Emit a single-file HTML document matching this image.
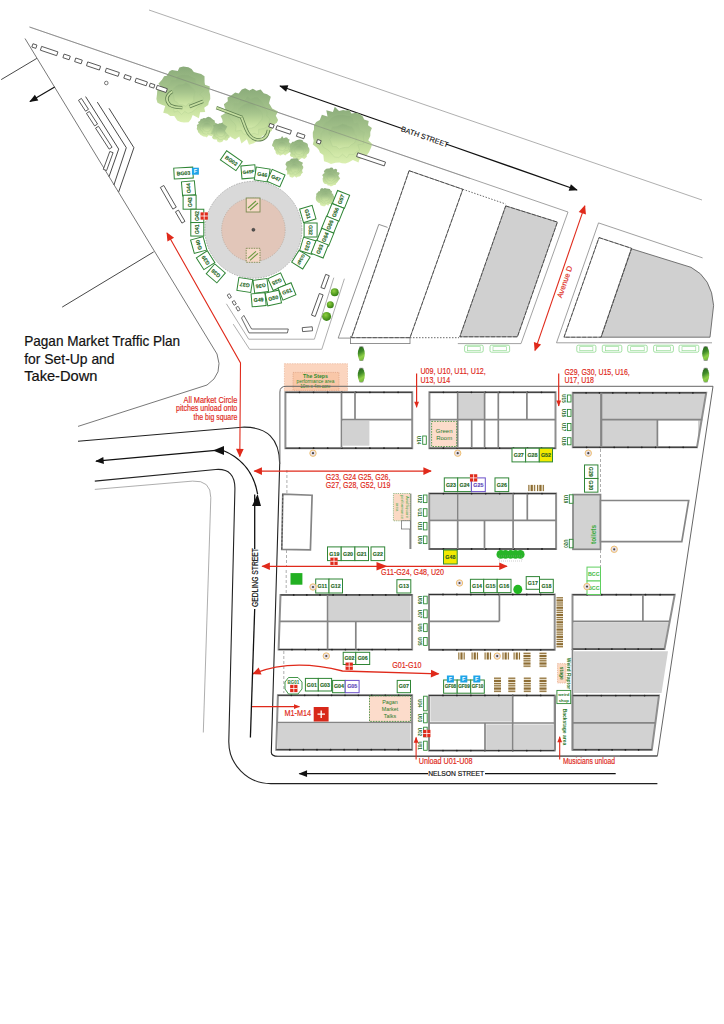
<!DOCTYPE html>
<html><head><meta charset="utf-8"><style>
html,body{margin:0;padding:0;background:#fff;}
svg{display:block;}
</style></head><body>
<svg width="724" height="1024" viewBox="0 0 724 1024" font-family="Liberation Sans">
<rect width="724" height="1024" fill="#fff"/>
<defs>
<marker id="ab" viewBox="0 0 10 10" refX="9" refY="5" markerWidth="11" markerHeight="8.5" orient="auto-start-reverse" markerUnits="userSpaceOnUse"><path d="M0,1 L10,5 L0,9 z" fill="#111"/></marker>
<marker id="ar" viewBox="0 0 10 10" refX="9" refY="5" markerWidth="11" markerHeight="8.5" orient="auto-start-reverse" markerUnits="userSpaceOnUse"><path d="M0,0.5 L10,5 L0,9.5 z" fill="#e02a1b"/></marker>
<marker id="ars" viewBox="0 0 10 10" refX="9" refY="5" markerWidth="7.5" markerHeight="6" orient="auto-start-reverse" markerUnits="userSpaceOnUse"><path d="M0,1 L10,5 L0,9 z" fill="#e02a1b"/></marker>
<radialGradient id="tree" cx="0.5" cy="0.75" r="0.75">
<stop offset="0" stop-color="#dff0b0"/><stop offset="0.55" stop-color="#b5d68a"/><stop offset="1" stop-color="#8fb878"/></radialGradient>
<linearGradient id="treeL" x1="0" y1="0" x2="0" y2="1">
<stop offset="0" stop-color="#8aab7a"/><stop offset="0.45" stop-color="#a9c78e"/><stop offset="0.75" stop-color="#c6e09e"/><stop offset="1" stop-color="#dcf0b2"/></linearGradient>
<radialGradient id="bush" cx="0.4" cy="0.35" r="0.7"><stop offset="0" stop-color="#8fd040"/><stop offset="1" stop-color="#2f7a10"/></radialGradient>
<linearGradient id="cyp" x1="0" y1="0" x2="0.3" y2="1"><stop offset="0" stop-color="#235f1a"/><stop offset="0.45" stop-color="#3f8a28"/><stop offset="0.8" stop-color="#8fd048"/><stop offset="1" stop-color="#7cc040"/></linearGradient>
</defs>
<line x1="149" y1="10" x2="702" y2="200" stroke="#9a9a9a" stroke-width="0.8" />
<path d="M29.5,27 L568,212 L521,343.6 L457.8,343.6" stroke="#8a8a8a" stroke-width="0.8" fill="none" />
<line x1="280" y1="86" x2="402" y2="128.5" stroke="#111" stroke-width="1.3" marker-start="url(#ab)"/>
<line x1="446" y1="144" x2="577" y2="190" stroke="#111" stroke-width="1.3" marker-end="url(#ab)"/>
<text x="424" y="139.3" font-size="7.3" fill="#111" text-anchor="middle" font-weight="normal" font-family="Liberation Sans" transform="rotate(19.3 424 139.3)" stroke="#111" stroke-width="0.12">BATH STREET</text>
<path d="M25,38.5 L217,354 Q224,374 207,385 L78,426.4" stroke="#555" stroke-width="0.8" fill="none" />
<line x1="1.2" y1="79.6" x2="36.8" y2="58.4" stroke="#333" stroke-width="0.9" />
<line x1="54.7" y1="87" x2="30" y2="101.5" stroke="#111" stroke-width="1.2" marker-end="url(#ab)"/>
<line x1="62.2" y1="307.1" x2="153.7" y2="251.9" stroke="#333" stroke-width="0.9" />
<path d="M85.6,96.6 L118.7,149.1 L109,176.7" stroke="#333" stroke-width="0.9" fill="none" />
<path d="M97.3,102.1 L126.3,147.7 L113.9,185" stroke="#333" stroke-width="0.9" fill="none" />
<path d="M109,108.3 L133.9,147.7 L118.7,191.9" stroke="#333" stroke-width="0.9" fill="none" />
<line x1="584.8" y1="205.9" x2="535" y2="350.4" stroke="#e02a1b" stroke-width="1.1" marker-start="url(#ar)" marker-end="url(#ar)"/>
<text x="567.6" y="282.5" font-size="7.6" fill="#e02a1b" text-anchor="middle" font-weight="normal" font-family="Liberation Sans" transform="rotate(-71 567.6 283)" stroke="#e02a1b" stroke-width="0.15">Avenue D</text>
<polygon points="215.8,126.8 217.2,129.0 216.4,130.4 214.8,131.6 215.2,133.6 213.3,134.8 212.1,136.2 210.2,135.7 208.6,135.3 206.7,137.5 205.6,136.7 203.3,136.5 202.1,135.8 200.6,135.1 199.4,133.4 198.1,132.3 197.7,130.6 196.7,129.0 197.2,126.8 196.8,125.1 198.8,123.8 198.0,122.1 199.9,120.9 200.7,119.1 202.4,118.7 203.6,117.9 205.7,118.3 207.0,117.3 208.5,116.7 210.6,117.6 211.7,118.4 213.2,119.8 214.7,120.5 214.9,122.5 216.5,123.5 217.3,125.2" fill="url(#treeL)" stroke="none" opacity="1"/>
<polygon points="213.7,126.8 213.7,128.8 213.7,130.3 211.6,130.8 211.1,132.7 209.8,133.9 208.0,133.0 206.5,134.2 205.1,133.8 203.0,133.4 202.5,131.6 201.4,130.5 200.3,129.3 199.8,127.8 200.7,126.4 200.0,124.4 201.0,123.1 201.9,121.7 203.6,121.0 205.0,120.1 206.4,119.6 208.1,120.1 209.7,121.1 210.9,121.9 211.8,122.8 213.8,123.7 214.3,125.0" fill="url(#treeL)" stroke="#9cbf86" stroke-width="0.4" opacity="0.55"/>
<polygon points="211.7,127.1 211.1,128.4 210.6,130.0 209.3,130.8 207.9,131.6 206.2,131.4 204.8,130.9 203.6,130.0 202.6,128.6 203.1,127.1 202.6,125.4 203.9,124.4 204.5,123.0 206.2,122.9 207.6,122.8 209.2,123.2 209.8,124.6 211.2,125.6" fill="url(#treeL)" stroke="#9cbf86" stroke-width="0.4" opacity="0.5"/>
<polygon points="229.4,132.2 231.4,133.5 229.6,135.3 229.9,137.2 228.4,138.2 227.7,140.0 226.1,140.8 223.7,139.8 222.4,141.7 221.0,142.3 219.5,142.4 217.5,141.7 216.7,139.5 214.7,139.5 213.1,138.9 212.0,137.3 213.3,134.8 210.7,133.7 212.0,131.8 212.6,130.4 212.5,128.8 213.8,127.9 213.2,125.1 215.1,124.8 216.1,123.5 218.1,124.0 219.5,123.2 220.9,123.3 223.0,122.2 224.0,124.0 226.1,123.4 227.5,124.0 229.1,125.4 230.1,127.1 230.7,128.7 230.2,130.6" fill="url(#treeL)" stroke="none" opacity="1"/>
<polygon points="228.1,132.0 227.8,133.7 227.7,135.3 225.7,135.9 225.5,138.1 223.5,138.2 222.1,139.4 220.5,139.5 218.8,139.1 217.9,137.5 216.2,137.3 214.7,136.0 215.1,134.2 214.3,132.8 213.7,131.4 214.6,129.8 215.9,128.8 216.3,127.3 217.1,125.7 219.0,124.8 220.5,125.3 222.3,124.5 224.2,125.2 225.2,126.0 226.1,127.8 227.5,128.5 228.0,130.1" fill="url(#treeL)" stroke="#9cbf86" stroke-width="0.4" opacity="0.55"/>
<polygon points="225.2,132.1 224.8,133.5 224.2,134.8 223.3,136.0 221.8,136.6 220.3,136.5 218.6,136.0 217.5,134.9 216.6,133.6 216.3,131.9 216.7,130.4 217.5,129.3 218.6,128.0 220.1,127.4 221.6,127.7 222.9,128.8 223.9,129.7 225.2,130.4" fill="url(#treeL)" stroke="#9cbf86" stroke-width="0.4" opacity="0.5"/>
<polygon points="291.3,145.9 291.1,147.5 291.4,149.5 289.4,150.0 289.7,152.2 287.9,153.5 286.6,154.3 285.3,155.4 283.4,154.2 282.0,154.8 280.2,155.8 278.7,154.6 277.1,154.7 275.7,153.1 275.6,151.3 274.9,150.0 273.9,149.0 274.1,147.4 272.0,145.8 272.2,144.5 273.1,142.5 273.5,141.0 274.6,139.8 276.0,139.0 277.9,138.9 279.3,138.4 280.8,138.3 282.1,136.1 283.6,138.2 285.4,137.4 287.1,137.5 288.1,139.0 289.6,139.5 288.9,142.2 290.0,142.9 291.8,144.2" fill="url(#treeL)" stroke="none" opacity="1"/>
<polygon points="288.3,145.9 289.0,147.8 288.4,149.3 287.3,150.6 285.3,150.6 284.2,151.2 283.3,153.1 281.5,153.2 280.1,152.7 278.4,152.2 278.0,150.5 277.2,149.2 275.4,148.2 275.3,146.8 275.4,145.2 275.8,143.7 276.4,142.1 277.6,141.4 278.4,139.9 280.2,139.5 281.6,138.8 283.1,139.4 284.4,139.9 286.3,140.3 287.3,141.6 288.3,142.9 288.2,144.6" fill="url(#treeL)" stroke="#9cbf86" stroke-width="0.4" opacity="0.55"/>
<polygon points="286.5,145.9 285.4,147.3 285.3,148.7 284.2,149.8 282.8,150.3 281.3,150.1 279.9,149.8 278.5,148.8 278.3,147.3 277.5,146.1 277.9,144.4 278.6,143.3 279.8,142.1 281.2,141.7 282.8,141.8 284.3,142.2 285.1,143.3 286.1,144.6" fill="url(#treeL)" stroke="#9cbf86" stroke-width="0.4" opacity="0.5"/>
<polygon points="309.5,149.8 309.3,151.7 308.6,153.2 306.7,154.7 306.8,156.8 305.6,157.9 304.4,159.0 302.0,157.9 300.4,158.9 298.8,160.4 297.4,159.5 295.9,158.2 293.6,159.0 292.9,157.2 291.0,156.7 289.9,155.3 290.7,152.8 288.9,151.8 289.3,149.8 290.3,148.3 289.5,146.5 290.3,144.9 291.0,143.6 292.4,141.8 294.0,141.8 295.5,140.8 297.2,139.9 299.3,139.6 300.8,139.7 302.6,140.3 303.5,142.0 305.2,142.4 307.2,143.5 307.8,144.6 308.1,146.9 309.1,148.1" fill="url(#treeL)" stroke="none" opacity="1"/>
<polygon points="306.2,149.9 305.6,151.4 304.3,152.8 303.6,153.9 303.6,155.8 301.4,156.1 300.1,156.0 298.6,156.4 296.9,157.2 295.3,156.5 294.9,154.4 292.7,154.2 292.0,152.8 291.7,150.7 291.5,149.2 292.3,147.3 292.6,146.0 293.7,144.7 295.3,143.4 296.8,143.2 298.6,144.1 300.1,143.0 302.0,143.4 303.5,144.4 304.5,145.2 305.4,146.6 305.1,148.5" fill="url(#treeL)" stroke="#9cbf86" stroke-width="0.4" opacity="0.55"/>
<polygon points="303.5,150.1 303.4,151.5 302.6,153.0 301.0,153.4 299.9,154.6 298.1,154.3 296.6,153.9 295.7,152.7 295.1,151.4 294.3,150.0 295.3,148.7 296.1,147.5 296.8,146.3 298.3,145.8 299.9,145.6 301.2,146.4 301.9,147.5 303.5,148.5" fill="url(#treeL)" stroke="#9cbf86" stroke-width="0.4" opacity="0.5"/>
<polygon points="303.3,168.1 302.4,169.5 302.1,170.9 302.9,172.5 301.3,174.0 300.7,175.8 299.4,176.5 297.6,176.7 296.5,177.7 294.6,176.2 292.6,177.8 290.9,177.3 289.5,176.6 289.3,174.5 287.0,174.5 287.2,172.0 287.0,170.8 285.6,169.5 286.4,168.1 286.7,166.5 285.4,164.4 285.9,163.1 286.7,161.7 288.5,161.0 289.8,160.4 291.1,158.8 293.0,158.6 294.4,158.5 296.4,158.2 298.2,158.7 298.8,160.8 299.9,161.2 301.5,162.0 303.0,162.7 302.0,165.1 303.1,166.3" fill="url(#treeL)" stroke="none" opacity="1"/>
<polygon points="300.3,168.1 301.3,169.6 300.1,170.8 299.4,171.9 298.0,172.9 296.9,173.2 295.9,174.9 294.1,173.9 292.9,173.6 291.0,174.1 289.7,173.3 288.6,172.1 289.2,169.9 287.4,169.0 287.8,167.0 287.8,165.6 289.4,164.6 289.7,163.0 291.4,163.0 292.4,161.5 294.2,160.8 295.6,162.3 297.0,162.3 298.5,162.4 299.1,164.0 300.6,164.8 300.4,166.8" fill="url(#treeL)" stroke="#9cbf86" stroke-width="0.4" opacity="0.55"/>
<polygon points="298.8,168.1 298.2,169.4 297.9,170.8 296.8,171.9 295.1,171.5 293.7,172.0 292.3,171.8 291.2,170.9 291.0,169.2 290.6,168.0 290.7,166.6 291.5,165.4 292.5,164.5 293.7,163.8 295.3,164.0 296.3,164.8 297.7,165.4 298.4,166.4" fill="url(#treeL)" stroke="#9cbf86" stroke-width="0.4" opacity="0.5"/>
<polygon points="339.1,177.1 340.2,178.6 339.1,179.7 338.2,181.1 337.4,182.3 336.3,183.2 335.5,185.0 333.9,185.0 332.7,185.7 330.8,186.4 329.4,185.4 327.7,185.6 327.1,184.2 325.0,183.9 323.9,183.2 322.9,181.6 322.7,179.8 322.6,178.6 323.3,177.1 322.2,175.2 323.1,174.0 324.6,173.1 323.8,171.3 325.1,169.8 326.3,168.8 328.1,168.5 329.3,168.6 330.9,167.6 332.6,167.7 333.6,169.5 335.8,168.8 337.2,169.8 336.9,171.9 339.1,172.4 339.6,173.8 338.3,175.6" fill="url(#treeL)" stroke="none" opacity="1"/>
<polygon points="337.6,176.8 337.4,178.6 336.9,180.2 335.2,180.7 334.3,181.6 333.3,182.3 332.0,183.4 330.7,183.1 329.1,183.6 327.5,182.8 326.9,181.3 325.4,180.9 325.1,179.3 324.3,177.8 325.5,176.4 324.8,174.8 325.8,173.4 326.5,172.3 327.6,171.1 329.0,170.6 330.7,170.3 332.0,171.7 333.8,171.0 335.0,171.7 335.9,172.8 336.0,174.6 337.6,175.3" fill="url(#treeL)" stroke="#9cbf86" stroke-width="0.4" opacity="0.55"/>
<polygon points="335.3,177.0 334.5,178.2 334.0,179.4 332.7,180.0 331.7,181.2 330.5,180.4 328.9,180.5 328.2,179.3 327.2,178.4 326.8,177.1 327.3,175.7 327.8,174.2 328.9,173.3 330.2,173.2 331.6,173.5 332.9,173.7 333.7,174.6 334.6,175.6" fill="url(#treeL)" stroke="#9cbf86" stroke-width="0.4" opacity="0.5"/>
<polygon points="334.5,196.9 334.3,198.7 333.7,200.2 332.9,201.3 332.1,202.7 331.3,204.1 329.1,204.0 328.4,205.8 326.3,204.5 325.0,206.2 323.1,206.3 321.6,205.7 320.4,205.3 319.9,203.3 318.4,202.8 317.0,201.5 316.1,200.2 315.8,198.9 315.9,196.9 316.3,195.6 316.2,193.8 317.7,192.6 318.2,191.4 319.9,190.9 320.4,188.9 322.0,188.0 323.5,188.8 324.8,188.0 326.3,188.5 328.1,188.8 329.8,189.1 330.7,190.4 332.0,191.2 331.7,193.3 333.1,194.1 333.3,195.3" fill="url(#treeL)" stroke="none" opacity="1"/>
<polygon points="330.4,197.0 331.5,198.7 330.5,199.7 330.1,201.0 329.2,202.4 327.5,202.4 326.3,203.6 324.7,202.7 323.3,203.3 322.2,201.9 321.0,201.1 319.6,200.7 319.7,199.0 318.2,197.6 318.3,196.3 318.9,194.9 319.4,193.3 320.3,192.4 321.8,191.5 323.4,191.1 324.6,190.7 326.3,190.3 327.5,191.6 328.6,192.4 330.0,192.7 330.5,194.1 331.6,195.3" fill="url(#treeL)" stroke="#9cbf86" stroke-width="0.4" opacity="0.55"/>
<polygon points="329.2,196.9 329.0,198.4 328.3,199.6 327.2,200.5 325.7,200.5 324.2,201.2 323.0,200.6 321.8,199.8 321.8,198.1 320.9,197.0 321.0,195.6 321.8,194.3 322.9,193.3 324.3,193.6 325.7,192.8 327.1,193.3 327.6,194.8 328.6,195.8" fill="url(#treeL)" stroke="#9cbf86" stroke-width="0.4" opacity="0.5"/>
<polygon points="210.1,94.5 210.3,99.1 208.8,101.9 208.2,105.1 204.2,107.8 205.2,112.1 200.1,112.3 198.9,118.3 192.7,115.1 191.0,119.3 188.6,122.2 184.0,122.6 180.6,122.0 177.2,120.4 174.3,116.1 170.2,116.0 167.4,113.7 163.2,112.7 165.2,105.9 161.1,104.5 157.5,102.7 156.4,98.9 157.0,94.2 157.3,90.2 161.6,87.3 158.4,83.8 162.0,79.7 164.1,76.3 166.8,75.7 169.5,71.2 172.0,70.0 177.8,70.9 179.4,67.4 183.3,66.6 188.4,67.2 191.6,68.9 193.8,71.9 197.3,72.9 201.1,73.9 204.5,76.2 204.6,82.2 205.0,84.7 209.8,86.5 209.3,91.5" fill="url(#treeL)" stroke="none" opacity="1"/>
<polygon points="199.8,94.2 203.6,98.0 202.1,102.2 201.1,105.3 197.8,107.1 195.0,109.5 192.1,112.0 188.0,113.3 184.7,111.4 181.5,114.5 178.0,110.7 174.3,112.1 173.2,106.7 171.5,104.8 167.3,102.7 164.7,100.4 168.1,96.6 166.1,93.2 167.5,90.0 166.5,85.4 169.7,83.8 170.6,79.9 175.6,79.9 177.6,75.8 181.7,74.8 184.4,74.8 188.7,75.0 191.8,76.7 195.7,78.3 195.9,83.0 199.6,85.2 201.4,87.9 203.7,90.4" fill="url(#treeL)" stroke="#9cbf86" stroke-width="0.4" opacity="0.55"/>
<polygon points="194.3,94.3 193.6,97.5 193.8,100.5 191.3,103.0 188.2,103.5 186.0,106.2 182.4,104.8 179.2,104.7 177.1,102.2 174.5,100.8 173.9,97.3 173.1,94.7 172.9,91.1 173.8,87.9 176.5,85.8 179.0,84.3 182.8,84.2 185.9,82.6 189.0,84.1 190.9,86.5 193.1,88.4 195.0,91.0" fill="url(#treeL)" stroke="#9cbf86" stroke-width="0.4" opacity="0.5"/>
<polygon points="275.8,115.7 278.1,120.1 276.8,122.8 272.3,125.7 271.9,130.4 269.3,132.9 268.2,136.3 262.8,135.4 260.5,137.9 257.6,140.4 253.8,143.3 249.0,144.7 246.9,139.2 241.4,143.5 239.3,136.6 235.1,139.5 231.5,137.5 227.7,134.4 225.0,131.1 227.3,126.4 222.9,123.7 222.3,119.5 220.6,115.9 226.9,112.1 224.7,107.6 223.9,104.2 227.8,101.3 227.5,97.4 231.5,95.2 235.2,92.4 238.7,93.5 241.8,89.6 245.2,88.2 249.4,90.5 252.8,88.8 256.4,90.7 260.7,89.4 263.7,93.3 267.1,94.3 270.8,96.7 269.0,103.2 270.7,106.1 272.1,108.6 278.0,111.4" fill="url(#treeL)" stroke="none" opacity="1"/>
<polygon points="266.7,116.0 269.9,119.0 268.4,123.6 267.3,126.7 263.8,128.5 258.7,129.2 258.3,134.7 254.0,133.2 250.1,134.7 247.1,135.1 243.4,133.7 241.4,130.3 235.6,131.1 236.1,126.6 234.8,123.6 231.7,120.9 229.0,117.4 229.1,114.0 231.7,110.2 234.1,108.1 233.3,103.0 238.8,103.3 240.1,99.1 244.6,99.9 247.1,95.8 250.5,98.6 254.5,97.0 257.8,97.2 261.1,100.0 262.7,102.5 264.9,106.4 265.6,109.7 267.3,112.3" fill="url(#treeL)" stroke="#9cbf86" stroke-width="0.4" opacity="0.55"/>
<polygon points="262.6,115.6 261.9,119.2 259.3,122.3 257.4,124.7 254.9,126.7 251.2,128.2 248.0,128.2 244.9,126.4 241.3,125.7 239.9,122.1 238.2,118.8 236.9,115.4 237.6,112.6 238.7,108.7 241.4,106.0 244.1,104.2 248.1,102.7 251.3,103.0 254.6,104.2 256.4,107.6 259.4,109.4 261.5,112.0" fill="url(#treeL)" stroke="#9cbf86" stroke-width="0.4" opacity="0.5"/>
<polygon points="370.3,136.1 368.3,140.2 372.2,143.9 371.1,147.6 369.0,152.3 366.8,155.2 363.8,157.3 359.4,159.4 358.5,162.4 352.9,160.1 348.9,162.3 345.5,163.5 341.8,163.2 339.5,162.4 335.5,162.7 331.0,163.9 327.8,162.4 324.0,161.2 323.3,155.0 320.0,152.7 318.9,150.0 317.0,147.7 312.8,144.6 313.7,140.8 312.9,136.9 312.8,132.4 314.0,129.5 314.0,125.2 316.2,121.9 319.8,120.0 321.9,114.7 327.5,116.4 326.3,110.2 332.9,112.1 334.8,106.7 339.0,110.9 343.1,109.9 345.4,110.6 349.4,109.9 351.4,113.6 356.4,112.8 359.4,113.7 362.8,116.4 364.1,119.6 368.7,121.0 368.0,125.3 371.9,127.9 370.3,132.1" fill="url(#treeL)" stroke="none" opacity="1"/>
<polygon points="363.4,136.6 363.6,139.6 363.5,143.9 357.8,144.8 359.6,150.2 355.9,152.1 353.6,154.6 349.1,154.2 346.9,157.8 342.5,154.2 338.8,157.4 334.8,157.0 332.5,155.0 329.5,151.2 327.4,149.6 323.2,147.1 322.1,143.8 321.0,140.6 320.8,136.9 321.2,133.3 324.0,130.3 323.2,125.2 325.8,122.0 329.1,120.6 331.4,117.6 334.8,115.6 339.1,114.5 342.9,114.4 346.0,115.2 349.5,115.4 353.0,117.9 354.1,123.3 358.1,122.6 358.9,126.6 359.7,130.0 364.4,132.7" fill="url(#treeL)" stroke="#9cbf86" stroke-width="0.4" opacity="0.55"/>
<polygon points="356.3,136.1 355.8,140.4 354.2,143.2 351.0,144.9 348.9,147.1 345.3,147.4 342.5,147.8 339.2,149.0 336.5,146.7 332.4,146.1 331.3,143.3 329.8,139.6 331.4,136.6 329.0,133.1 330.2,129.9 332.8,126.5 336.8,126.3 339.8,124.9 342.4,123.7 345.9,124.6 348.5,125.9 351.9,126.6 354.2,130.2 354.1,133.2" fill="url(#treeL)" stroke="#9cbf86" stroke-width="0.4" opacity="0.5"/>
<path d="M172.4,91.4 Q163,97 169.7,104.9 Q174,107.5 182.3,107.6" stroke="#5f7f50" stroke-width="3.4" fill="none" />
<path d="M172.4,91.4 Q163,97 169.7,104.9 Q174,107.5 182.3,107.6" stroke="#c5dea0" stroke-width="1.8" fill="none" />
<path d="M189.5,106.7 L203,101.3" stroke="#5f7f50" stroke-width="3.4" fill="none" />
<path d="M189.5,106.7 L203,101.3" stroke="#c5dea0" stroke-width="1.8" fill="none" />
<path d="M216.4,107.6 L242.5,117.5" stroke="#5f7f50" stroke-width="3.4" fill="none" />
<path d="M216.4,107.6 L242.5,117.5" stroke="#c5dea0" stroke-width="1.8" fill="none" />
<path d="M241.6,117.5 L246,129 Q250,139 257.7,139.9 Q267,140 268.5,130" stroke="#5f7f50" stroke-width="3.4" fill="none" />
<path d="M241.6,117.5 L246,129 Q250,139 257.7,139.9 Q267,140 268.5,130" stroke="#c5dea0" stroke-width="1.8" fill="none" />
<line x1="29.5" y1="27" x2="470" y2="178.5" stroke="#777" stroke-width="0.6" opacity="0.7"/>
<path d="M350.5,338.1 L338.2,338.1 L378.8,224.4 L387.6,227.4" stroke="#777" stroke-width="0.8" fill="none" />
<rect x="350.5" y="336.7" width="59.5" height="6.9" stroke="#777" stroke-width="0.8" fill="#fff" />
<line x1="410" y1="337.7" x2="459" y2="337.7" stroke="#444" stroke-width="0.8" stroke-dasharray="1.5,1.5"/>
<line x1="462.8" y1="189.3" x2="505.7" y2="204" stroke="#444" stroke-width="0.8" stroke-dasharray="1.5,1.5"/>
<polygon points="409.1,170.7 462.8,189.3 410,337.7 351.5,337.7" stroke="#777" stroke-width="0.9" fill="#fff" />
<polygon points="409.1,170.7 462.8,189.3 410,337.7 351.5,337.7" stroke="#111" stroke-width="0.5" fill="none" stroke-dasharray="4,1.5"/>
<polygon points="505.7,205.9 557.4,222.1 517.4,336.8 459.8,336.8" stroke="#777" stroke-width="0.9" fill="#d0d0d0" />
<polygon points="505.7,205.9 557.4,222.1 517.4,336.8 459.8,336.8" stroke="#111" stroke-width="0.5" fill="none" stroke-dasharray="4,1.5"/>
<path d="M556.5,342.8 L598.5,222.9 L702.6,257.9" stroke="#888" stroke-width="0.8" fill="none" />
<line x1="556.5" y1="342.8" x2="712" y2="342.8" stroke="#888" stroke-width="0.8" />
<path d="M631.5,248.8 L691,267.3 Q712,278 713.6,305.5 L710,337.2 L601,337.2 z" fill="#d0d0d0" stroke="#555" stroke-width="0.8"/>
<polygon points="599,237.6 631.5,248.3 601,337.2 564,337.2" stroke="#777" stroke-width="0.9" fill="#fff" />
<polygon points="599,237.6 631.5,248.3 601,337.2 564,337.2" stroke="#111" stroke-width="0.5" fill="none" stroke-dasharray="4,1.5"/>
<rect x="464.6" y="345.2" width="18.599999999999966" height="7" rx="1.5" fill="none" stroke="#8ad88a" stroke-width="0.8"/>
<rect x="467.6" y="346.7" width="12.599999999999966" height="4" fill="none" stroke="#8ad88a" stroke-width="0.6"/>
<rect x="490" y="345.2" width="19.600000000000023" height="7" rx="1.5" fill="none" stroke="#8ad88a" stroke-width="0.8"/>
<rect x="493" y="346.7" width="13.600000000000023" height="4" fill="none" stroke="#8ad88a" stroke-width="0.6"/>
<rect x="576.8" y="345.2" width="19.100000000000023" height="7" rx="1.5" fill="none" stroke="#8ad88a" stroke-width="0.8"/>
<rect x="579.8" y="346.7" width="13.100000000000023" height="4" fill="none" stroke="#8ad88a" stroke-width="0.6"/>
<rect x="602.3" y="345.2" width="19.5" height="7" rx="1.5" fill="none" stroke="#8ad88a" stroke-width="0.8"/>
<rect x="605.3" y="346.7" width="13.5" height="4" fill="none" stroke="#8ad88a" stroke-width="0.6"/>
<rect x="627.7" y="345.2" width="19.5" height="7" rx="1.5" fill="none" stroke="#8ad88a" stroke-width="0.8"/>
<rect x="630.7" y="346.7" width="13.5" height="4" fill="none" stroke="#8ad88a" stroke-width="0.6"/>
<rect x="653.6" y="345.2" width="19.799999999999955" height="7" rx="1.5" fill="none" stroke="#8ad88a" stroke-width="0.8"/>
<rect x="656.6" y="346.7" width="13.799999999999955" height="4" fill="none" stroke="#8ad88a" stroke-width="0.6"/>
<rect x="679" y="345.2" width="19.799999999999955" height="7" rx="1.5" fill="none" stroke="#8ad88a" stroke-width="0.8"/>
<rect x="682" y="346.7" width="13.799999999999955" height="4" fill="none" stroke="#8ad88a" stroke-width="0.6"/>
<rect x="359.1" y="346.3" width="4.4" height="14.8" rx="1" fill="#9a9a9a"/>
<ellipse cx="361.3" cy="353.7" rx="3.5" ry="7" fill="url(#cyp)"/>
<rect x="359.1" y="367.8" width="4.4" height="14.8" rx="1" fill="#9a9a9a"/>
<ellipse cx="361.3" cy="375.2" rx="3.5" ry="7" fill="url(#cyp)"/>
<rect x="703.5" y="346.20000000000005" width="4.4" height="14.8" rx="1" fill="#9a9a9a"/>
<ellipse cx="705.7" cy="353.6" rx="3.5" ry="7" fill="url(#cyp)"/>
<rect x="703.5" y="367.8" width="4.4" height="14.8" rx="1" fill="#9a9a9a"/>
<ellipse cx="705.7" cy="375.2" rx="3.5" ry="7" fill="url(#cyp)"/>
<rect x="284.4" y="363.7" width="63.1" height="27.3" fill="#fbd5bf" stroke="#e8b090" stroke-width="0.6" stroke-dasharray="1.5,1"/>
<rect x="293" y="372.4" width="46" height="17.9" fill="#f9c7a8" stroke="#d09070" stroke-width="0.5" stroke-dasharray="1.2,1"/>
<text x="315.5" y="377.8" font-size="5.2" fill="#2a8a2a" text-anchor="middle" font-weight="bold" font-family="Liberation Sans" >The Steps</text>
<text x="315.5" y="383.2" font-size="4.8" fill="#2a8a2a" text-anchor="middle" font-weight="normal" font-family="Liberation Sans" >performance area</text>
<text x="315.5" y="388.4" font-size="4.6" fill="#2a8a2a" text-anchor="middle" font-weight="normal" font-family="Liberation Sans" >10m x 4m core</text>
<text x="24.2" y="345.9" font-size="14.6" fill="#111" stroke="#111" stroke-width="0.2" textLength="156" lengthAdjust="spacingAndGlyphs">Pagan Market Traffic Plan</text>
<text x="24.2" y="363.6" font-size="14.6" fill="#111" stroke="#111" stroke-width="0.2" textLength="90.4" lengthAdjust="spacingAndGlyphs">for Set-Up and</text>
<text x="24.2" y="381.3" font-size="14.6" fill="#111" stroke="#111" stroke-width="0.2" textLength="73.2" lengthAdjust="spacingAndGlyphs">Take-Down</text>
<path d="M78,441.3 L242,427.2 Q279.7,426 279.7,464.2 L271.3,752.4 Q271.5,756.3 277.9,756.3 L657.4,756" stroke="#222" stroke-width="1.1" fill="none" />
<path d="M94.8,481.1 L215.8,469.5 Q235.5,468 234.9,489.6 L228.8,741 A42,42 0 0 0 270.8,783.6 L657.4,783.6" stroke="#222" stroke-width="1.1" fill="none" />
<path d="M94.8,489.4 L192.6,481.1 Q211,480 210.8,497.7 L203.3,732.5" stroke="#999" stroke-width="0.8" fill="none" />
<path d="M279.9,464 L279.9,392 Q279.9,386.3 286,386.3 L713,386.3 L657.4,755.9 L620,756" stroke="#666" stroke-width="1.0" fill="none" />
<rect x="342.8" y="420.9" width="26.599999999999966" height="24.80000000000001" fill="#d2d2d2"/>
<polygon points="285.4,392.3 412.2,392.3 412.2,448.2 285.4,448.2" stroke="#8f8f8f" stroke-width="2.0" fill="none" />
<line x1="285.4" y1="392.3" x2="412.2" y2="392.3" stroke="#1a1a1a" stroke-width="0.8" />
<circle cx="299.5" cy="392.3" r="0.9" fill="#222"/>
<circle cx="313.6" cy="392.3" r="0.9" fill="#222"/>
<circle cx="327.7" cy="392.3" r="0.9" fill="#222"/>
<circle cx="341.8" cy="392.3" r="0.9" fill="#222"/>
<circle cx="355.8" cy="392.3" r="0.9" fill="#222"/>
<circle cx="369.9" cy="392.3" r="0.9" fill="#222"/>
<circle cx="384.0" cy="392.3" r="0.9" fill="#222"/>
<circle cx="398.1" cy="392.3" r="0.9" fill="#222"/>
<line x1="285.4" y1="448.2" x2="412.2" y2="448.2" stroke="#1a1a1a" stroke-width="0.8" />
<circle cx="299.5" cy="448.2" r="0.9" fill="#222"/>
<circle cx="313.6" cy="448.2" r="0.9" fill="#222"/>
<circle cx="327.7" cy="448.2" r="0.9" fill="#222"/>
<circle cx="341.8" cy="448.2" r="0.9" fill="#222"/>
<circle cx="355.8" cy="448.2" r="0.9" fill="#222"/>
<circle cx="369.9" cy="448.2" r="0.9" fill="#222"/>
<circle cx="384.0" cy="448.2" r="0.9" fill="#222"/>
<circle cx="398.1" cy="448.2" r="0.9" fill="#222"/>
<line x1="341.5" y1="392.3" x2="341.5" y2="448.2" stroke="#858585" stroke-width="1.7" />
<line x1="355" y1="392.3" x2="355" y2="419.6" stroke="#858585" stroke-width="1.7" />
<line x1="341.5" y1="419.6" x2="412.2" y2="419.6" stroke="#858585" stroke-width="1.7" />
<rect x="431.1" y="420.9" width="26.1" height="26.1" fill="#fcdccb"/>
<rect x="458.5" y="393.5" width="25.600000000000023" height="25.600000000000023" fill="#d2d2d2"/>
<polygon points="429.4,392.3 555.5,392.3 555.5,448.2 429.4,448.2" stroke="#8f8f8f" stroke-width="2.0" fill="none" />
<line x1="429.4" y1="392.3" x2="555.5" y2="392.3" stroke="#1a1a1a" stroke-width="0.8" />
<circle cx="443.4" cy="392.3" r="0.9" fill="#222"/>
<circle cx="457.4" cy="392.3" r="0.9" fill="#222"/>
<circle cx="471.4" cy="392.3" r="0.9" fill="#222"/>
<circle cx="485.4" cy="392.3" r="0.9" fill="#222"/>
<circle cx="499.5" cy="392.3" r="0.9" fill="#222"/>
<circle cx="513.5" cy="392.3" r="0.9" fill="#222"/>
<circle cx="527.5" cy="392.3" r="0.9" fill="#222"/>
<circle cx="541.5" cy="392.3" r="0.9" fill="#222"/>
<line x1="429.4" y1="448.2" x2="555.5" y2="448.2" stroke="#1a1a1a" stroke-width="0.8" />
<circle cx="443.4" cy="448.2" r="0.9" fill="#222"/>
<circle cx="457.4" cy="448.2" r="0.9" fill="#222"/>
<circle cx="471.4" cy="448.2" r="0.9" fill="#222"/>
<circle cx="485.4" cy="448.2" r="0.9" fill="#222"/>
<circle cx="499.5" cy="448.2" r="0.9" fill="#222"/>
<circle cx="513.5" cy="448.2" r="0.9" fill="#222"/>
<circle cx="527.5" cy="448.2" r="0.9" fill="#222"/>
<circle cx="541.5" cy="448.2" r="0.9" fill="#222"/>
<line x1="457.7" y1="392.3" x2="457.7" y2="448.2" stroke="#858585" stroke-width="1.7" />
<line x1="484.6" y1="392.3" x2="484.6" y2="448.2" stroke="#858585" stroke-width="1.7" />
<line x1="498.3" y1="392.3" x2="498.3" y2="448.2" stroke="#858585" stroke-width="1.7" />
<line x1="526.9" y1="392.3" x2="526.9" y2="419.6" stroke="#858585" stroke-width="1.7" />
<line x1="471.7" y1="419.6" x2="471.7" y2="448.2" stroke="#858585" stroke-width="1.7" />
<line x1="429.4" y1="419.6" x2="555.5" y2="419.6" stroke="#858585" stroke-width="1.7" />
<rect x="431.6" y="421.4" width="25.1" height="25.1" stroke="#2f8a35" stroke-width="0.8" fill="none" stroke-dasharray="1.5,1.2"/>
<text x="444.2" y="432.5" font-size="6" fill="#2a7a30" text-anchor="middle" font-weight="normal" font-family="Liberation Sans" >Green</text>
<text x="444.2" y="439.8" font-size="6" fill="#2a7a30" text-anchor="middle" font-weight="normal" font-family="Liberation Sans" >Room</text>
<polygon points="572.8,392.8 706.2,392.8 697,447.3 572.8,447.3" fill="#d2d2d2"/>
<rect x="658" y="420.5" width="40" height="26" fill="#fff"/>
<polygon points="572.8,392.8 706.2,392.8 697,447.3 572.8,447.3" stroke="#8f8f8f" stroke-width="2.0" fill="none" />
<line x1="572.8" y1="392.8" x2="706.2" y2="392.8" stroke="#1a1a1a" stroke-width="0.8" />
<circle cx="586.1" cy="392.8" r="0.9" fill="#222"/>
<circle cx="599.5" cy="392.8" r="0.9" fill="#222"/>
<circle cx="612.8" cy="392.8" r="0.9" fill="#222"/>
<circle cx="626.2" cy="392.8" r="0.9" fill="#222"/>
<circle cx="639.5" cy="392.8" r="0.9" fill="#222"/>
<circle cx="652.8" cy="392.8" r="0.9" fill="#222"/>
<circle cx="666.2" cy="392.8" r="0.9" fill="#222"/>
<circle cx="679.5" cy="392.8" r="0.9" fill="#222"/>
<circle cx="692.9" cy="392.8" r="0.9" fill="#222"/>
<line x1="572.8" y1="447.3" x2="697" y2="447.3" stroke="#1a1a1a" stroke-width="0.8" />
<circle cx="586.6" cy="447.3" r="0.9" fill="#222"/>
<circle cx="600.4" cy="447.3" r="0.9" fill="#222"/>
<circle cx="614.2" cy="447.3" r="0.9" fill="#222"/>
<circle cx="628.0" cy="447.3" r="0.9" fill="#222"/>
<circle cx="641.8" cy="447.3" r="0.9" fill="#222"/>
<circle cx="655.6" cy="447.3" r="0.9" fill="#222"/>
<circle cx="669.4" cy="447.3" r="0.9" fill="#222"/>
<circle cx="683.2" cy="447.3" r="0.9" fill="#222"/>
<line x1="601.2" y1="392.8" x2="601.2" y2="447.3" stroke="#858585" stroke-width="2.2" />
<line x1="601.2" y1="419.7" x2="702.3" y2="419.7" stroke="#858585" stroke-width="1.7" />
<line x1="657.4" y1="419.7" x2="657.4" y2="447.3" stroke="#858585" stroke-width="1.7" />
<polygon points="282.8,494.2 312.1,495.2 310.4,549.9 281.8,549.4" stroke="#858585" stroke-width="1.7" fill="#fff" />
<line x1="282.8" y1="494.2" x2="281.8" y2="549.4" stroke="#222" stroke-width="0.6" stroke-dasharray="2.2,1.6"/>
<line x1="286.9" y1="470" x2="286.9" y2="494" stroke="#999" stroke-width="0.8" stroke-dasharray="3,2"/>
<line x1="286.5" y1="550" x2="286.5" y2="566" stroke="#999" stroke-width="0.8" stroke-dasharray="3,2"/>
<line x1="286.2" y1="570" x2="286.2" y2="594" stroke="#999" stroke-width="0.8" stroke-dasharray="3,2"/>
<line x1="283.8" y1="651" x2="283.8" y2="693" stroke="#999" stroke-width="0.8" stroke-dasharray="3,2"/>
<rect x="430.3" y="494.3" width="26.399999999999977" height="25.400000000000034" fill="#d2d2d2"/>
<rect x="458.7" y="494.3" width="53.69999999999999" height="25.400000000000034" fill="#d2d2d2"/>
<polygon points="429.3,493.6 556.1,493.6 556.1,549 429.3,549" stroke="#8f8f8f" stroke-width="2.0" fill="none" />
<line x1="429.3" y1="493.6" x2="556.1" y2="493.6" stroke="#1a1a1a" stroke-width="0.8" />
<circle cx="443.4" cy="493.6" r="0.9" fill="#222"/>
<circle cx="457.5" cy="493.6" r="0.9" fill="#222"/>
<circle cx="471.6" cy="493.6" r="0.9" fill="#222"/>
<circle cx="485.7" cy="493.6" r="0.9" fill="#222"/>
<circle cx="499.7" cy="493.6" r="0.9" fill="#222"/>
<circle cx="513.8" cy="493.6" r="0.9" fill="#222"/>
<circle cx="527.9" cy="493.6" r="0.9" fill="#222"/>
<circle cx="542.0" cy="493.6" r="0.9" fill="#222"/>
<line x1="429.3" y1="549" x2="556.1" y2="549" stroke="#1a1a1a" stroke-width="0.8" />
<circle cx="443.4" cy="549.0" r="0.9" fill="#222"/>
<circle cx="457.5" cy="549.0" r="0.9" fill="#222"/>
<circle cx="471.6" cy="549.0" r="0.9" fill="#222"/>
<circle cx="485.7" cy="549.0" r="0.9" fill="#222"/>
<circle cx="499.7" cy="549.0" r="0.9" fill="#222"/>
<circle cx="513.8" cy="549.0" r="0.9" fill="#222"/>
<circle cx="527.9" cy="549.0" r="0.9" fill="#222"/>
<circle cx="542.0" cy="549.0" r="0.9" fill="#222"/>
<line x1="457.7" y1="493.6" x2="457.7" y2="549" stroke="#858585" stroke-width="1.7" />
<line x1="513.1" y1="493.6" x2="513.1" y2="549" stroke="#858585" stroke-width="1.7" />
<line x1="527.3" y1="493.6" x2="527.3" y2="520.4" stroke="#858585" stroke-width="1.7" />
<line x1="484.5" y1="520.4" x2="484.5" y2="549" stroke="#858585" stroke-width="1.7" />
<line x1="429.3" y1="520.4" x2="556.1" y2="520.4" stroke="#858585" stroke-width="1.7" />
<line x1="410.4" y1="493.6" x2="410.4" y2="549" stroke="#858585" stroke-width="2" />
<rect x="573" y="494.6" width="27.5" height="54.69999999999993" fill="#d2d2d2"/>
<rect x="573" y="494.6" width="27.5" height="54.7" stroke="#858585" stroke-width="1.7" fill="none" />
<polygon points="600.5,500.5 688.7,500.5 681.8,541.7 600.5,541.7" stroke="#858585" stroke-width="1.7" fill="#fff" />
<text x="596.3" y="544" transform="rotate(-90 596.3 544)" font-size="8" font-weight="bold" fill="#3aaa3a" textLength="19" lengthAdjust="spacingAndGlyphs">toilets</text>
<line x1="600.5" y1="449" x2="600.5" y2="494" stroke="#999" stroke-width="0.8" stroke-dasharray="3,2"/>
<line x1="600.5" y1="550" x2="600.5" y2="594" stroke="#999" stroke-width="0.8" stroke-dasharray="3,2"/>
<rect x="328.6" y="595.9" width="81.89999999999998" height="24.5" fill="#d2d2d2"/>
<polygon points="280.5,594.9 412.1,594.9 412.1,649.6 278.6,649.6" stroke="#8f8f8f" stroke-width="2.0" fill="none" />
<line x1="280.5" y1="594.9" x2="412.1" y2="594.9" stroke="#1a1a1a" stroke-width="0.8" />
<circle cx="293.7" cy="594.9" r="0.9" fill="#222"/>
<circle cx="306.8" cy="594.9" r="0.9" fill="#222"/>
<circle cx="320.0" cy="594.9" r="0.9" fill="#222"/>
<circle cx="333.1" cy="594.9" r="0.9" fill="#222"/>
<circle cx="346.3" cy="594.9" r="0.9" fill="#222"/>
<circle cx="359.5" cy="594.9" r="0.9" fill="#222"/>
<circle cx="372.6" cy="594.9" r="0.9" fill="#222"/>
<circle cx="385.8" cy="594.9" r="0.9" fill="#222"/>
<circle cx="398.9" cy="594.9" r="0.9" fill="#222"/>
<line x1="278.6" y1="649.6" x2="412.1" y2="649.6" stroke="#1a1a1a" stroke-width="0.8" />
<circle cx="292.0" cy="649.6" r="0.9" fill="#222"/>
<circle cx="305.3" cy="649.6" r="0.9" fill="#222"/>
<circle cx="318.7" cy="649.6" r="0.9" fill="#222"/>
<circle cx="332.0" cy="649.6" r="0.9" fill="#222"/>
<circle cx="345.4" cy="649.6" r="0.9" fill="#222"/>
<circle cx="358.7" cy="649.6" r="0.9" fill="#222"/>
<circle cx="372.1" cy="649.6" r="0.9" fill="#222"/>
<circle cx="385.4" cy="649.6" r="0.9" fill="#222"/>
<circle cx="398.8" cy="649.6" r="0.9" fill="#222"/>
<line x1="327.6" y1="594.9" x2="327.6" y2="649.6" stroke="#858585" stroke-width="1.7" />
<line x1="279.5" y1="621.4" x2="412.1" y2="621.4" stroke="#858585" stroke-width="1.7" />
<line x1="355.8" y1="621.4" x2="355.8" y2="649.6" stroke="#858585" stroke-width="1.7" />
<polygon points="429,594.5 554.7,594.5 554.7,649.8 429,649.8" stroke="#8f8f8f" stroke-width="2.0" fill="none" />
<line x1="429" y1="594.5" x2="554.7" y2="594.5" stroke="#1a1a1a" stroke-width="0.8" />
<circle cx="443.0" cy="594.5" r="0.9" fill="#222"/>
<circle cx="456.9" cy="594.5" r="0.9" fill="#222"/>
<circle cx="470.9" cy="594.5" r="0.9" fill="#222"/>
<circle cx="484.9" cy="594.5" r="0.9" fill="#222"/>
<circle cx="498.8" cy="594.5" r="0.9" fill="#222"/>
<circle cx="512.8" cy="594.5" r="0.9" fill="#222"/>
<circle cx="526.8" cy="594.5" r="0.9" fill="#222"/>
<circle cx="540.7" cy="594.5" r="0.9" fill="#222"/>
<line x1="429" y1="649.8" x2="554.7" y2="649.8" stroke="#1a1a1a" stroke-width="0.8" />
<circle cx="443.0" cy="649.8" r="0.9" fill="#222"/>
<circle cx="456.9" cy="649.8" r="0.9" fill="#222"/>
<circle cx="470.9" cy="649.8" r="0.9" fill="#222"/>
<circle cx="484.9" cy="649.8" r="0.9" fill="#222"/>
<circle cx="498.8" cy="649.8" r="0.9" fill="#222"/>
<circle cx="512.8" cy="649.8" r="0.9" fill="#222"/>
<circle cx="526.8" cy="649.8" r="0.9" fill="#222"/>
<circle cx="540.7" cy="649.8" r="0.9" fill="#222"/>
<line x1="429" y1="621.3" x2="499.4" y2="621.3" stroke="#858585" stroke-width="1.7" />
<line x1="499.4" y1="594.5" x2="499.4" y2="621.3" stroke="#858585" stroke-width="1.7" />
<polygon points="573.8,622.7 668.6,622.7 664.5,649.1 573.8,649.1" fill="#d2d2d2"/>
<polygon points="572.5,594.7 674.7,594.7 664.5,649.1 572.5,649.1" stroke="#8f8f8f" stroke-width="2.0" fill="none" />
<line x1="572.5" y1="594.7" x2="674.7" y2="594.7" stroke="#1a1a1a" stroke-width="0.8" />
<circle cx="587.1" cy="594.7" r="0.9" fill="#222"/>
<circle cx="601.7" cy="594.7" r="0.9" fill="#222"/>
<circle cx="616.3" cy="594.7" r="0.9" fill="#222"/>
<circle cx="630.9" cy="594.7" r="0.9" fill="#222"/>
<circle cx="645.5" cy="594.7" r="0.9" fill="#222"/>
<circle cx="660.1" cy="594.7" r="0.9" fill="#222"/>
<line x1="572.5" y1="649.1" x2="664.5" y2="649.1" stroke="#1a1a1a" stroke-width="0.8" />
<circle cx="585.6" cy="649.1" r="0.9" fill="#222"/>
<circle cx="598.8" cy="649.1" r="0.9" fill="#222"/>
<circle cx="611.9" cy="649.1" r="0.9" fill="#222"/>
<circle cx="625.1" cy="649.1" r="0.9" fill="#222"/>
<circle cx="638.2" cy="649.1" r="0.9" fill="#222"/>
<circle cx="651.4" cy="649.1" r="0.9" fill="#222"/>
<line x1="642.9" y1="594.7" x2="642.9" y2="621.4" stroke="#858585" stroke-width="1.7" />
<line x1="572.5" y1="621.4" x2="669.7" y2="621.4" stroke="#858585" stroke-width="1.7" />
<polygon points="573.8,651.2 668,651.2 661.5,693.1 573.8,693.1" fill="#d2d2d2"/>
<line x1="572.5" y1="649" x2="572.5" y2="695.6" stroke="#858585" stroke-width="1.7" />
<rect x="369" y="695.3" width="42" height="26.6" fill="#fcdccb"/>
<rect x="278" y="723.5" width="132.5" height="25.5" fill="#d2d2d2"/>
<polygon points="277.9,695.3 412.1,695.3 412.1,749.7 276.2,749.7" stroke="#8f8f8f" stroke-width="2.0" fill="none" />
<line x1="277.9" y1="695.3" x2="412.1" y2="695.3" stroke="#1a1a1a" stroke-width="0.8" />
<circle cx="291.3" cy="695.3" r="0.9" fill="#222"/>
<circle cx="304.7" cy="695.3" r="0.9" fill="#222"/>
<circle cx="318.2" cy="695.3" r="0.9" fill="#222"/>
<circle cx="331.6" cy="695.3" r="0.9" fill="#222"/>
<circle cx="345.0" cy="695.3" r="0.9" fill="#222"/>
<circle cx="358.4" cy="695.3" r="0.9" fill="#222"/>
<circle cx="371.8" cy="695.3" r="0.9" fill="#222"/>
<circle cx="385.3" cy="695.3" r="0.9" fill="#222"/>
<circle cx="398.7" cy="695.3" r="0.9" fill="#222"/>
<line x1="276.2" y1="749.7" x2="412.1" y2="749.7" stroke="#1a1a1a" stroke-width="0.8" />
<circle cx="289.8" cy="749.7" r="0.9" fill="#222"/>
<circle cx="303.4" cy="749.7" r="0.9" fill="#222"/>
<circle cx="317.0" cy="749.7" r="0.9" fill="#222"/>
<circle cx="330.6" cy="749.7" r="0.9" fill="#222"/>
<circle cx="344.1" cy="749.7" r="0.9" fill="#222"/>
<circle cx="357.7" cy="749.7" r="0.9" fill="#222"/>
<circle cx="371.3" cy="749.7" r="0.9" fill="#222"/>
<circle cx="384.9" cy="749.7" r="0.9" fill="#222"/>
<circle cx="398.5" cy="749.7" r="0.9" fill="#222"/>
<line x1="277" y1="722.5" x2="412.1" y2="722.5" stroke="#858585" stroke-width="1.7" />
<rect x="369.5" y="695.8" width="41" height="25.6" stroke="#2f8a35" stroke-width="0.8" fill="none" stroke-dasharray="1.5,1.2"/>
<rect x="430.4" y="696.7" width="81.5" height="24.899999999999977" fill="#d2d2d2"/>
<rect x="486.2" y="724.4" width="25.69999999999999" height="24.800000000000068" fill="#d2d2d2"/>
<rect x="513.8" y="724.4" width="39.5" height="24.800000000000068" fill="#d2d2d2"/>
<polygon points="429,695.4 554.7,695.4 554.7,750.6 429,750.6" stroke="#8f8f8f" stroke-width="2.0" fill="none" />
<line x1="429" y1="695.4" x2="554.7" y2="695.4" stroke="#1a1a1a" stroke-width="0.8" />
<circle cx="443.0" cy="695.4" r="0.9" fill="#222"/>
<circle cx="456.9" cy="695.4" r="0.9" fill="#222"/>
<circle cx="470.9" cy="695.4" r="0.9" fill="#222"/>
<circle cx="484.9" cy="695.4" r="0.9" fill="#222"/>
<circle cx="498.8" cy="695.4" r="0.9" fill="#222"/>
<circle cx="512.8" cy="695.4" r="0.9" fill="#222"/>
<circle cx="526.8" cy="695.4" r="0.9" fill="#222"/>
<circle cx="540.7" cy="695.4" r="0.9" fill="#222"/>
<line x1="429" y1="750.6" x2="554.7" y2="750.6" stroke="#1a1a1a" stroke-width="0.8" />
<circle cx="443.0" cy="750.6" r="0.9" fill="#222"/>
<circle cx="456.9" cy="750.6" r="0.9" fill="#222"/>
<circle cx="470.9" cy="750.6" r="0.9" fill="#222"/>
<circle cx="484.9" cy="750.6" r="0.9" fill="#222"/>
<circle cx="498.8" cy="750.6" r="0.9" fill="#222"/>
<circle cx="512.8" cy="750.6" r="0.9" fill="#222"/>
<circle cx="526.8" cy="750.6" r="0.9" fill="#222"/>
<circle cx="540.7" cy="750.6" r="0.9" fill="#222"/>
<line x1="512.7" y1="695.4" x2="512.7" y2="750.6" stroke="#858585" stroke-width="1.7" />
<line x1="429" y1="723" x2="554.7" y2="723" stroke="#858585" stroke-width="1.7" />
<line x1="485" y1="723" x2="485" y2="750.6" stroke="#858585" stroke-width="1.7" />
<polygon points="572.5,695.6 659,695.6 651.8,749.8 572.5,749.8" fill="#d2d2d2"/>
<polygon points="572.5,695.6 659,695.6 651.8,749.8 572.5,749.8" stroke="#8f8f8f" stroke-width="2.0" fill="none" />
<line x1="572.5" y1="695.6" x2="659" y2="695.6" stroke="#1a1a1a" stroke-width="0.8" />
<circle cx="586.9" cy="695.6" r="0.9" fill="#222"/>
<circle cx="601.3" cy="695.6" r="0.9" fill="#222"/>
<circle cx="615.8" cy="695.6" r="0.9" fill="#222"/>
<circle cx="630.2" cy="695.6" r="0.9" fill="#222"/>
<circle cx="644.6" cy="695.6" r="0.9" fill="#222"/>
<line x1="572.5" y1="749.8" x2="651.8" y2="749.8" stroke="#1a1a1a" stroke-width="0.8" />
<circle cx="585.7" cy="749.8" r="0.9" fill="#222"/>
<circle cx="598.9" cy="749.8" r="0.9" fill="#222"/>
<circle cx="612.1" cy="749.8" r="0.9" fill="#222"/>
<circle cx="625.4" cy="749.8" r="0.9" fill="#222"/>
<circle cx="638.6" cy="749.8" r="0.9" fill="#222"/>
<line x1="572.5" y1="722.8" x2="655.4" y2="722.8" stroke="#858585" stroke-width="1.7" />
<line x1="555.2" y1="695.5" x2="555.2" y2="750.5" stroke="#858585" stroke-width="1.5" />
<line x1="572.5" y1="695.5" x2="572.5" y2="750.5" stroke="#858585" stroke-width="1.5" />
<path d="M167,233 L240.5,363 L239.8,456.5" stroke="#e02a1b" stroke-width="1.1" fill="none" marker-start="url(#ar)" marker-end="url(#ar)"/>
<line x1="416.6" y1="373.6" x2="416.6" y2="407.2" stroke="#e02a1b" stroke-width="1.2" marker-end="url(#ars)"/>
<line x1="558.7" y1="373.6" x2="558.7" y2="406" stroke="#e02a1b" stroke-width="1.2" marker-end="url(#ars)"/>
<line x1="254.3" y1="471.1" x2="431" y2="471.1" stroke="#e02a1b" stroke-width="1.3" marker-start="url(#ar)" marker-end="url(#ar)"/>
<line x1="262.2" y1="566.3" x2="506.9" y2="566.3" stroke="#e02a1b" stroke-width="1.3" marker-start="url(#ar)" marker-end="url(#ar)"/>
<path d="M387.5,566.3 L376.5,562 L376.5,570.6 z" stroke="none" stroke-width="0" fill="#e02a1b" />
<path d="M253,673.8 Q292,658 342.5,671 L438.6,673.8" stroke="#e02a1b" stroke-width="1.3" fill="none" marker-start="url(#ar)" marker-end="url(#ar)"/>
<line x1="251.4" y1="706.6" x2="299.4" y2="706.6" stroke="#e02a1b" stroke-width="1.1" marker-end="url(#ars)"/>
<line x1="416.1" y1="759.5" x2="416.1" y2="737.4" stroke="#e02a1b" stroke-width="1.1" marker-end="url(#ars)"/>
<line x1="559.7" y1="759.5" x2="559.7" y2="736.8" stroke="#e02a1b" stroke-width="1.1" marker-end="url(#ars)"/>
<text x="237.3" y="402.5" font-size="8.6" fill="#e02a1b" stroke="#e02a1b" stroke-width="0.18" text-anchor="end" font-weight="normal" textLength="53.7" lengthAdjust="spacingAndGlyphs" >All Market Circle</text>
<text x="237.3" y="411.3" font-size="8.6" fill="#e02a1b" stroke="#e02a1b" stroke-width="0.18" text-anchor="end" font-weight="normal" textLength="61.3" lengthAdjust="spacingAndGlyphs" >pitches unload onto</text>
<text x="237.3" y="420" font-size="8.6" fill="#e02a1b" stroke="#e02a1b" stroke-width="0.18" text-anchor="end" font-weight="normal" textLength="43.7" lengthAdjust="spacingAndGlyphs" >the big square</text>
<text x="420.4" y="374.2" font-size="8.3" fill="#e02a1b" stroke="#e02a1b" stroke-width="0.18" text-anchor="start" font-weight="normal" textLength="65.4" lengthAdjust="spacingAndGlyphs" >U09, U10, U11, U12,</text>
<text x="420.4" y="382.5" font-size="8.3" fill="#e02a1b" stroke="#e02a1b" stroke-width="0.18" text-anchor="start" font-weight="normal" textLength="29.8" lengthAdjust="spacingAndGlyphs" >U13, U14</text>
<text x="564.4" y="374.5" font-size="8.3" fill="#e02a1b" stroke="#e02a1b" stroke-width="0.18" text-anchor="start" font-weight="normal" textLength="65.4" lengthAdjust="spacingAndGlyphs" >G29, G30, U15, U16,</text>
<text x="564.4" y="383" font-size="8.3" fill="#e02a1b" stroke="#e02a1b" stroke-width="0.18" text-anchor="start" font-weight="normal" textLength="29.6" lengthAdjust="spacingAndGlyphs" >U17, U18</text>
<text x="325.8" y="479.8" font-size="8.3" fill="#e02a1b" stroke="#e02a1b" stroke-width="0.18" text-anchor="start" font-weight="normal" textLength="64.6" lengthAdjust="spacingAndGlyphs" >G23, G24 G25, G26,</text>
<text x="325.8" y="488.2" font-size="8.3" fill="#e02a1b" stroke="#e02a1b" stroke-width="0.18" text-anchor="start" font-weight="normal" textLength="64.6" lengthAdjust="spacingAndGlyphs" >G27, G28, G52, U19</text>
<text x="381" y="574.7" font-size="8.3" fill="#e02a1b" stroke="#e02a1b" stroke-width="0.18" text-anchor="start" font-weight="normal" textLength="63" lengthAdjust="spacingAndGlyphs" >G11-G24, G48, U20</text>
<text x="392.2" y="668.2" font-size="8.3" fill="#e02a1b" stroke="#e02a1b" stroke-width="0.18" text-anchor="start" font-weight="normal" textLength="29.2" lengthAdjust="spacingAndGlyphs" >G01-G10</text>
<text x="284.5" y="716.2" font-size="8.3" fill="#e02a1b" stroke="#e02a1b" stroke-width="0.18" text-anchor="start" font-weight="normal" textLength="26.5" lengthAdjust="spacingAndGlyphs" >M1-M14</text>
<text x="418.8" y="764" font-size="8.3" fill="#e02a1b" stroke="#e02a1b" stroke-width="0.18" text-anchor="start" font-weight="normal" textLength="53.6" lengthAdjust="spacingAndGlyphs" >Unload U01-U08</text>
<text x="562.9" y="763.5" font-size="8.3" fill="#e02a1b" stroke="#e02a1b" stroke-width="0.18" text-anchor="start" font-weight="normal" textLength="52.1" lengthAdjust="spacingAndGlyphs" >Musicians unload</text>
<line x1="299.4" y1="773.7" x2="428" y2="773.7" stroke="#111" stroke-width="1.2" marker-start="url(#ab)"/>
<line x1="485" y1="773.7" x2="615.7" y2="773.7" stroke="#111" stroke-width="1.2" />
<text x="428.2" y="776.4" font-size="7" fill="#111" stroke="#111" stroke-width="0.18" text-anchor="start" font-weight="normal" textLength="56" lengthAdjust="spacingAndGlyphs" >NELSON STREET</text>
<line x1="254.7" y1="549" x2="254.7" y2="494.5" stroke="#111" stroke-width="1.3" />
<path d="M252,506 L257.6,494 L261,506 z" stroke="none" stroke-width="0" fill="#111" />
<line x1="254.7" y1="609" x2="250.4" y2="737.4" stroke="#111" stroke-width="1.3" />
<path d="M257.6,494 Q252,462 222,450" stroke="#111" stroke-width="1.3" fill="none" />
<line x1="215.8" y1="450.3" x2="96" y2="461.2" stroke="#111" stroke-width="1.3" marker-end="url(#ab)"/>
<path d="M213,450.6 L224,446 L224,455 z" stroke="none" stroke-width="0" fill="#111" />
<text x="258.6" y="608" font-size="8.4" fill="#111" stroke="#111" stroke-width="0.18" text-anchor="start" font-weight="normal" textLength="59" lengthAdjust="spacingAndGlyphs" transform="rotate(-90 257.6 608)">GEDLING STREET</text>
<circle cx="253.4" cy="229.8" r="48.5" fill="#d9d9d9" stroke="#9a9a9a" stroke-width="0.7" stroke-dasharray="1.5,1.2"/>
<circle cx="253.4" cy="229.8" r="31.8" fill="#e2c6b9" stroke="#b0a090" stroke-width="0.6" stroke-dasharray="1.2,1.2"/>
<circle cx="253.4" cy="229.8" r="1.5" fill="#555" stroke="#222" stroke-width="0.5"/>
<rect x="246.2" y="198" width="13.8" height="14" fill="#f6d8c8" stroke="#7a8a50" stroke-width="0.9" />
<path d="M248,208 L256,201 M250,210 L258,203" stroke="#6a9a40" stroke-width="1.1"/>
<rect x="246.2" y="248.3" width="13.8" height="14" fill="#f6d8c8" stroke="#7a8a50" stroke-width="0.9" stroke-dasharray="1.5,1"/>
<path d="M248,258.3 L256,251.3 M250,260.3 L258,253.3" stroke="#6a9a40" stroke-width="1.1"/>
<rect x="-2.1099511961573127" y="-1.75" width="4.2199023923146255" height="3.5" transform="translate(34.4 46.073) rotate(18.578285702573645)" stroke="#444" stroke-width="0.8" fill="#fff"/>
<rect x="-8.59805112434105" y="-2.0" width="17.1961022486821" height="4" transform="translate(49.15 51.036375) rotate(18.578285702573645)" stroke="#444" stroke-width="0.8" fill="#fff"/>
<rect x="-3.2704243540438367" y="-1.9" width="6.540848708087673" height="3.8" transform="translate(66.6 56.9083) rotate(18.578285702573645)" stroke="#444" stroke-width="0.8" fill="#fff"/>
<rect x="-3.4286706937556337" y="-1.9" width="6.857341387511267" height="3.8" transform="translate(78.45 60.895825) rotate(18.578285702573645)" stroke="#444" stroke-width="0.8" fill="#fff"/>
<rect x="-6.804592607607337" y="-2.0" width="13.609185215214675" height="4" transform="translate(93.55 65.976975) rotate(18.578285702573645)" stroke="#444" stroke-width="0.8" fill="#fff"/>
<rect x="-6.804592607607337" y="-2.0" width="13.609185215214675" height="4" transform="translate(112.25 72.269525) rotate(18.578285702573645)" stroke="#444" stroke-width="0.8" fill="#fff"/>
<rect x="-3.270424354043829" y="-1.9" width="6.540848708087658" height="3.8" transform="translate(127.5 77.40115) rotate(18.578285702573645)" stroke="#444" stroke-width="0.8" fill="#fff"/>
<rect x="-5.907863349240485" y="-2.0" width="11.81572669848097" height="4" transform="translate(141.2 82.0112) rotate(18.578285702573645)" stroke="#444" stroke-width="0.8" fill="#fff"/>
<rect x="-2.373695095676977" y="-1.8" width="4.747390191353954" height="3.6" transform="translate(152.05 85.662225) rotate(18.578285702573645)" stroke="#444" stroke-width="0.8" fill="#fff"/>
<rect x="-5.274877990393282" y="-2.0" width="10.549755980786564" height="4" transform="translate(161.7 88.90944999999999) rotate(18.578285702573645)" stroke="#444" stroke-width="0.8" fill="#fff"/>
<rect x="-2.2681975358691173" y="-1.8" width="4.536395071738235" height="3.6" transform="translate(271.45000000000005 125.840325) rotate(18.578285702573645)" stroke="#444" stroke-width="0.8" fill="#fff"/>
<rect x="-7.595824306166344" y="-2.0" width="15.191648612332688" height="4" transform="translate(283.6 129.92880000000002) rotate(18.578285702573645)" stroke="#444" stroke-width="0.8" fill="#fff"/>
<rect x="-3.903409712891017" y="-1.9" width="7.806819425782034" height="3.8" transform="translate(300.7 135.68295) rotate(18.578285702573645)" stroke="#444" stroke-width="0.8" fill="#fff"/>
<rect x="-1.8989560765415936" y="-1.8" width="3.797912153083187" height="3.6" transform="translate(318.8 141.77360000000002) rotate(18.578285702573645)" stroke="#444" stroke-width="0.8" fill="#fff"/>
<rect x="-14.611412033389387" y="-2.0" width="29.222824066778774" height="4" transform="translate(371.04999999999995 159.355725) rotate(18.578285702573645)" stroke="#444" stroke-width="0.8" fill="#fff"/>
<circle cx="106.3" cy="83" r="1.8" fill="none" stroke="#444" stroke-width="0.7"/>
<rect x="-1.75" y="-6.5" width="3.5" height="13" transform="translate(83.5 104.8) rotate(-33)" stroke="#444" stroke-width="0.8" fill="#fff"/>
<rect x="-1.75" y="-7.5" width="3.5" height="15" transform="translate(92 118.7) rotate(-33)" stroke="#444" stroke-width="0.8" fill="#fff"/>
<rect x="-1.75" y="-12.5" width="3.5" height="25" transform="translate(103.8 137.7) rotate(-33)" stroke="#444" stroke-width="0.8" fill="#fff"/>
<rect x="-1.75" y="-9.5" width="3.5" height="19" transform="translate(108.2 161) rotate(20)" stroke="#444" stroke-width="0.8" fill="#fff"/>
<path d="M226.4,303.8 L248.7,339.2 L314.4,339.2 L333.8,277.7" stroke="#999" stroke-width="0.8" fill="none" />
<path d="M233.2,324.1 L249.6,349.3 L321.8,349.3 L344.4,278.7" stroke="#999" stroke-width="0.8" fill="none" />
<path d="M243.8,315.4 L251.6,329 L288.3,329 L287.4,332.9 L249,332.9 L241.5,318 z" stroke="#444" stroke-width="0.8" fill="#fff" />
<rect x="-5.0" y="-2.0" width="10" height="4" transform="translate(307.4 329.2) rotate(-5)" stroke="#444" stroke-width="0.8" fill="#fff"/>
<rect x="-2.0" y="-11.5" width="4" height="23" transform="translate(317.3 305) rotate(20)" stroke="#444" stroke-width="0.8" fill="#fff"/>
<rect x="-1.9" y="-7.0" width="3.8" height="14" transform="translate(325.1 281.6) rotate(20)" stroke="#444" stroke-width="0.8" fill="#fff"/>
<rect x="-1.3" y="-2.0" width="2.6" height="4" transform="translate(229.3 296.1) rotate(-30)" stroke="#444" stroke-width="0.7" fill="#fff"/>
<rect x="-1.3" y="-2.0" width="2.6" height="4" transform="translate(234.2 302.9) rotate(-30)" stroke="#444" stroke-width="0.7" fill="#fff"/>
<rect x="-1.3" y="-2.0" width="2.6" height="4" transform="translate(238 308.7) rotate(-30)" stroke="#444" stroke-width="0.7" fill="#fff"/>
<circle cx="334.7" cy="292.2" r="4" fill="url(#bush)"/>
<circle cx="330.3" cy="304.8" r="3.5" fill="url(#bush)"/>
<circle cx="326.6" cy="316.4" r="4.5" fill="url(#bush)"/>
<rect x="-2.0" y="-12.5" width="4" height="25" transform="translate(168.3 197.3) rotate(-30)" stroke="#444" stroke-width="0.8" fill="#fff"/>
<rect x="-1.75" y="-6.5" width="3.5" height="13" transform="translate(180.2 216.6) rotate(-30)" stroke="#444" stroke-width="0.8" fill="#fff"/>
<g transform="translate(518.8 455.04999999999995) rotate(0)"><rect x="-6.800000000000011" y="-6.849999999999994" width="13.600000000000023" height="13.699999999999989" fill="#fff" stroke="#2f8535" stroke-width="1.0"/><text x="0" y="1.908" transform="rotate(0)" font-size="5.3" font-weight="bold" fill="#1d6622" stroke="#1d6622" stroke-width="0.12" text-anchor="middle">G27</text></g>
<g transform="translate(532.45 455.04999999999995) rotate(0)"><rect x="-6.849999999999966" y="-6.849999999999994" width="13.699999999999932" height="13.699999999999989" fill="#fff" stroke="#2f8535" stroke-width="1.0"/><text x="0" y="1.908" transform="rotate(0)" font-size="5.3" font-weight="bold" fill="#1d6622" stroke="#1d6622" stroke-width="0.12" text-anchor="middle">G28</text></g>
<g transform="translate(545.9 455.04999999999995) rotate(0)"><rect x="-6.600000000000023" y="-6.849999999999994" width="13.200000000000045" height="13.699999999999989" fill="#f2ea00" stroke="#2f8a35" stroke-width="1.0"/><text x="0" y="1.908" transform="rotate(0)" font-size="5.3" font-weight="bold" fill="#1f5a20" stroke="#1f5a20" stroke-width="0.12" text-anchor="middle">G52</text></g>
<g transform="translate(451.0 484.75) rotate(0)"><rect x="-6.699999999999989" y="-6.850000000000023" width="13.399999999999977" height="13.700000000000045" fill="#fff" stroke="#2f8535" stroke-width="1.0"/><text x="0" y="1.908" transform="rotate(0)" font-size="5.3" font-weight="bold" fill="#1d6622" stroke="#1d6622" stroke-width="0.12" text-anchor="middle">G23</text></g>
<g transform="translate(464.54999999999995 484.75) rotate(0)"><rect x="-6.849999999999994" y="-6.850000000000023" width="13.699999999999989" height="13.700000000000045" fill="#fff" stroke="#2f8535" stroke-width="1.0"/><text x="0" y="1.908" transform="rotate(0)" font-size="5.3" font-weight="bold" fill="#1d6622" stroke="#1d6622" stroke-width="0.12" text-anchor="middle">G24</text></g>
<g transform="translate(478.35 484.75) rotate(0)"><rect x="-6.950000000000017" y="-6.850000000000023" width="13.900000000000034" height="13.700000000000045" fill="#fff" stroke="#6a4fc8" stroke-width="1.0"/><text x="0" y="1.908" transform="rotate(0)" font-size="5.3" font-weight="bold" fill="#5a3fb8" stroke="#5a3fb8" stroke-width="0.12" text-anchor="middle">G25</text></g>
<g transform="translate(501.85 484.75) rotate(0)"><rect x="-6.849999999999994" y="-6.850000000000023" width="13.699999999999989" height="13.700000000000045" fill="#fff" stroke="#2f8535" stroke-width="1.0"/><text x="0" y="1.908" transform="rotate(0)" font-size="5.3" font-weight="bold" fill="#1d6622" stroke="#1d6622" stroke-width="0.12" text-anchor="middle">G26</text></g>
<g transform="translate(450.35 557.0) rotate(0)"><rect x="-6.849999999999994" y="-7.0" width="13.699999999999989" height="14" fill="#f2ea00" stroke="#2f8a35" stroke-width="1.0"/><text x="0" y="1.908" transform="rotate(0)" font-size="5.3" font-weight="bold" fill="#1f5a20" stroke="#1f5a20" stroke-width="0.12" text-anchor="middle">G48</text></g>
<g transform="translate(334.35 553.75) rotate(0)"><rect x="-6.849999999999994" y="-6.850000000000023" width="13.699999999999989" height="13.700000000000045" fill="#fff" stroke="#2f8535" stroke-width="1.0"/><text x="0" y="1.908" transform="rotate(0)" font-size="5.3" font-weight="bold" fill="#1d6622" stroke="#1d6622" stroke-width="0.12" text-anchor="middle">G19</text></g>
<g transform="translate(348.04999999999995 553.75) rotate(0)"><rect x="-6.849999999999994" y="-6.850000000000023" width="13.699999999999989" height="13.700000000000045" fill="#fff" stroke="#2f8535" stroke-width="1.0"/><text x="0" y="1.908" transform="rotate(0)" font-size="5.3" font-weight="bold" fill="#1d6622" stroke="#1d6622" stroke-width="0.12" text-anchor="middle">G20</text></g>
<g transform="translate(361.7 553.75) rotate(0)"><rect x="-6.800000000000011" y="-6.850000000000023" width="13.600000000000023" height="13.700000000000045" fill="#fff" stroke="#2f8535" stroke-width="1.0"/><text x="0" y="1.908" transform="rotate(0)" font-size="5.3" font-weight="bold" fill="#1d6622" stroke="#1d6622" stroke-width="0.12" text-anchor="middle">G21</text></g>
<g transform="translate(377.85 553.75) rotate(0)"><rect x="-6.849999999999994" y="-6.850000000000023" width="13.699999999999989" height="13.700000000000045" fill="#fff" stroke="#2f8535" stroke-width="1.0"/><text x="0" y="1.908" transform="rotate(0)" font-size="5.3" font-weight="bold" fill="#1d6622" stroke="#1d6622" stroke-width="0.12" text-anchor="middle">G22</text></g>
<g transform="translate(322.35 586.0) rotate(0)"><rect x="-6.650000000000006" y="-7.0" width="13.300000000000011" height="14" fill="#fff" stroke="#2f8535" stroke-width="1.0"/><text x="0" y="1.908" transform="rotate(0)" font-size="5.3" font-weight="bold" fill="#1d6622" stroke="#1d6622" stroke-width="0.12" text-anchor="middle">G11</text></g>
<g transform="translate(335.75 586.0) rotate(0)"><rect x="-6.75" y="-7.0" width="13.5" height="14" fill="#fff" stroke="#2f8535" stroke-width="1.0"/><text x="0" y="1.908" transform="rotate(0)" font-size="5.3" font-weight="bold" fill="#1d6622" stroke="#1d6622" stroke-width="0.12" text-anchor="middle">G12</text></g>
<g transform="translate(403.85 586.35) rotate(0)"><rect x="-6.950000000000017" y="-6.649999999999977" width="13.900000000000034" height="13.299999999999955" fill="#fff" stroke="#2f8535" stroke-width="1.0"/><text x="0" y="1.908" transform="rotate(0)" font-size="5.3" font-weight="bold" fill="#1d6622" stroke="#1d6622" stroke-width="0.12" text-anchor="middle">G13</text></g>
<g transform="translate(477.04999999999995 585.95) rotate(0)"><rect x="-6.650000000000006" y="-6.650000000000034" width="13.300000000000011" height="13.300000000000068" fill="#fff" stroke="#2f8535" stroke-width="1.0"/><text x="0" y="1.908" transform="rotate(0)" font-size="5.3" font-weight="bold" fill="#1d6622" stroke="#1d6622" stroke-width="0.12" text-anchor="middle">G14</text></g>
<g transform="translate(490.45 585.95) rotate(0)"><rect x="-6.75" y="-6.650000000000034" width="13.5" height="13.300000000000068" fill="#fff" stroke="#2f8535" stroke-width="1.0"/><text x="0" y="1.908" transform="rotate(0)" font-size="5.3" font-weight="bold" fill="#1d6622" stroke="#1d6622" stroke-width="0.12" text-anchor="middle">G15</text></g>
<g transform="translate(504.1 585.95) rotate(0)"><rect x="-6.900000000000006" y="-6.650000000000034" width="13.800000000000011" height="13.300000000000068" fill="#fff" stroke="#2f8535" stroke-width="1.0"/><text x="0" y="1.908" transform="rotate(0)" font-size="5.3" font-weight="bold" fill="#1d6622" stroke="#1d6622" stroke-width="0.12" text-anchor="middle">G16</text></g>
<g transform="translate(532.85 582.95) rotate(0)"><rect x="-6.649999999999977" y="-6.349999999999966" width="13.299999999999955" height="12.699999999999932" fill="#fff" stroke="#2f8535" stroke-width="1.0"/><text x="0" y="1.908" transform="rotate(0)" font-size="5.3" font-weight="bold" fill="#1d6622" stroke="#1d6622" stroke-width="0.12" text-anchor="middle">G17</text></g>
<g transform="translate(546.4 585.95) rotate(0)"><rect x="-6.899999999999977" y="-6.650000000000034" width="13.799999999999955" height="13.300000000000068" fill="#fff" stroke="#2f8535" stroke-width="1.0"/><text x="0" y="1.908" transform="rotate(0)" font-size="5.3" font-weight="bold" fill="#1d6622" stroke="#1d6622" stroke-width="0.12" text-anchor="middle">G18</text></g>
<g transform="translate(349.5 658.4) rotate(0)"><rect x="-6.300000000000011" y="-6.100000000000023" width="12.600000000000023" height="12.200000000000045" fill="#fff" stroke="#2f8535" stroke-width="1.0"/><text x="0" y="1.908" transform="rotate(0)" font-size="5.3" font-weight="bold" fill="#1d6622" stroke="#1d6622" stroke-width="0.12" text-anchor="middle">G02</text></g>
<g transform="translate(362.75 658.4) rotate(0)"><rect x="-6.949999999999989" y="-6.100000000000023" width="13.899999999999977" height="12.200000000000045" fill="#fff" stroke="#2f8535" stroke-width="1.0"/><text x="0" y="1.908" transform="rotate(0)" font-size="5.3" font-weight="bold" fill="#1d6622" stroke="#1d6622" stroke-width="0.12" text-anchor="middle">G06</text></g>
<g transform="translate(311.85 684.7) rotate(0)"><rect x="-6.450000000000017" y="-6.300000000000011" width="12.900000000000034" height="12.600000000000023" fill="#fff" stroke="#2f8535" stroke-width="1.0"/><text x="0" y="1.908" transform="rotate(0)" font-size="5.3" font-weight="bold" fill="#1d6622" stroke="#1d6622" stroke-width="0.12" text-anchor="middle">G01</text></g>
<g transform="translate(324.95000000000005 684.7) rotate(0)"><rect x="-6.650000000000006" y="-6.300000000000011" width="13.300000000000011" height="12.600000000000023" fill="#fff" stroke="#2f8535" stroke-width="1.0"/><text x="0" y="1.908" transform="rotate(0)" font-size="5.3" font-weight="bold" fill="#1d6622" stroke="#1d6622" stroke-width="0.12" text-anchor="middle">G03</text></g>
<g transform="translate(338.9 686.55) rotate(0)"><rect x="-6.299999999999983" y="-6.150000000000034" width="12.599999999999966" height="12.300000000000068" fill="#fff" stroke="#2f8535" stroke-width="1.0"/><text x="0" y="1.908" transform="rotate(0)" font-size="5.3" font-weight="bold" fill="#1d6622" stroke="#1d6622" stroke-width="0.12" text-anchor="middle">G04</text></g>
<g transform="translate(352.15 686.55) rotate(0)"><rect x="-6.950000000000017" y="-6.150000000000034" width="13.900000000000034" height="12.300000000000068" fill="#fff" stroke="#6a4fc8" stroke-width="1.0"/><text x="0" y="1.908" transform="rotate(0)" font-size="5.3" font-weight="bold" fill="#5a3fb8" stroke="#5a3fb8" stroke-width="0.12" text-anchor="middle">G05</text></g>
<g transform="translate(403.85 686.55) rotate(0)"><rect x="-6.650000000000006" y="-6.150000000000034" width="13.300000000000011" height="12.300000000000068" fill="#fff" stroke="#2f8535" stroke-width="1.0"/><text x="0" y="1.908" transform="rotate(0)" font-size="5.3" font-weight="bold" fill="#1d6622" stroke="#1d6622" stroke-width="0.12" text-anchor="middle">G07</text></g>
<g transform="translate(450.4 686.6) rotate(0)"><rect x="-6.799999999999983" y="-6.600000000000023" width="13.599999999999966" height="13.200000000000045" fill="#fff" stroke="#2f8535" stroke-width="1.0"/><text x="0" y="1.656" transform="rotate(0)" font-size="4.6" font-weight="bold" fill="#1d6622" stroke="#1d6622" stroke-width="0.12" text-anchor="middle">GF08</text></g>
<g transform="translate(463.95 686.6) rotate(0)"><rect x="-6.75" y="-6.600000000000023" width="13.5" height="13.200000000000045" fill="#fff" stroke="#2f8535" stroke-width="1.0"/><text x="0" y="1.656" transform="rotate(0)" font-size="4.6" font-weight="bold" fill="#1d6622" stroke="#1d6622" stroke-width="0.12" text-anchor="middle">GF09</text></g>
<g transform="translate(477.5 686.6) rotate(0)"><rect x="-6.800000000000011" y="-6.600000000000023" width="13.600000000000023" height="13.200000000000045" fill="#fff" stroke="#2f8535" stroke-width="1.0"/><text x="0" y="1.656" transform="rotate(0)" font-size="4.6" font-weight="bold" fill="#1d6622" stroke="#1d6622" stroke-width="0.12" text-anchor="middle">GF10</text></g>
<g transform="translate(593.75 574.05) rotate(0)"><rect x="-6.75" y="-6.949999999999989" width="13.5" height="13.899999999999977" fill="#fff" stroke="#5fcf5f" stroke-width="1.0"/><text x="0" y="1.908" transform="rotate(0)" font-size="5.3" font-weight="bold" fill="#4fbf4f" stroke="#4fbf4f" stroke-width="0.12" text-anchor="middle">BCC</text></g>
<g transform="translate(593.75 587.75) rotate(0)"><rect x="-6.75" y="-6.75" width="13.5" height="13.5" fill="#fff" stroke="#5fcf5f" stroke-width="1.0"/><text x="0" y="1.908" transform="rotate(0)" font-size="5.3" font-weight="bold" fill="#4fbf4f" stroke="#4fbf4f" stroke-width="0.12" text-anchor="middle">BCC</text></g>
<g transform="translate(591.2 471.8) rotate(90)"><rect x="-6.85" y="-6.7" width="13.7" height="13.4" fill="#fff" stroke="#2f8535" stroke-width="1.0"/><text x="0" y="1.908" transform="rotate(0)" font-size="5.3" font-weight="bold" fill="#1d6622" stroke="#1d6622" stroke-width="0.12" text-anchor="middle">G29</text></g>
<g transform="translate(591.2 485.3) rotate(90)"><rect x="-6.85" y="-6.7" width="13.7" height="13.4" fill="#fff" stroke="#2f8535" stroke-width="1.0"/><text x="0" y="1.908" transform="rotate(0)" font-size="5.3" font-weight="bold" fill="#1d6622" stroke="#1d6622" stroke-width="0.12" text-anchor="middle">G30</text></g>
<polygon points="288.5,677.5 298,677.5 302,682 302,689 298,694 288.5,694 285,689 285,682" fill="#fff" stroke="#2f8a35" stroke-width="0.9"/>
<text x="293.5" y="684" font-size="4.5" fill="#2a7a30" text-anchor="middle" font-weight="bold" font-family="Liberation Sans" >BG01</text>
<rect x="556.9" y="690.4" width="13.8" height="13.2" stroke="#2f8a35" stroke-width="0.9" fill="#fff" />
<text x="563.8" y="696.3" font-size="4.3" fill="#2a7a30" text-anchor="middle" font-weight="bold" font-family="Liberation Sans" >weird</text>
<text x="563.8" y="701.8" font-size="4.3" fill="#2a7a30" text-anchor="middle" font-weight="bold" font-family="Liberation Sans" >shop</text>
<rect x="422.7" y="436.0" width="3.6" height="8.299999999999988" stroke="#2f8a35" stroke-width="0.9" fill="#fff" />
<text x="419.4" y="440.15" transform="rotate(90 419.4 440.15)" font-size="5.3" font-weight="bold" fill="#1f6a25" text-anchor="middle" dominant-baseline="central" textLength="8.3" lengthAdjust="spacingAndGlyphs">U14</text>
<rect x="567.4" y="395.0" width="3.6" height="6.999999999999977" stroke="#2f8a35" stroke-width="0.9" fill="#fff" />
<text x="564.4" y="398.5" transform="rotate(90 564.4 398.5)" font-size="5.3" font-weight="bold" fill="#1f6a25" text-anchor="middle" dominant-baseline="central" textLength="8.3" lengthAdjust="spacingAndGlyphs">U15</text>
<rect x="567.4" y="409.4" width="3.6" height="7.000000000000034" stroke="#2f8a35" stroke-width="0.9" fill="#fff" />
<text x="564.4" y="412.9" transform="rotate(90 564.4 412.9)" font-size="5.3" font-weight="bold" fill="#1f6a25" text-anchor="middle" dominant-baseline="central" textLength="8.3" lengthAdjust="spacingAndGlyphs">U16</text>
<rect x="567.4" y="423.5" width="3.6" height="7.1" stroke="#2f8a35" stroke-width="0.9" fill="#fff" />
<text x="564.4" y="427.05" transform="rotate(90 564.4 427.05)" font-size="5.3" font-weight="bold" fill="#1f6a25" text-anchor="middle" dominant-baseline="central" textLength="8.3" lengthAdjust="spacingAndGlyphs">U17</text>
<rect x="567.4" y="437.7" width="3.6" height="7.1" stroke="#2f8a35" stroke-width="0.9" fill="#fff" />
<text x="564.4" y="441.25" transform="rotate(90 564.4 441.25)" font-size="5.3" font-weight="bold" fill="#1f6a25" text-anchor="middle" dominant-baseline="central" textLength="8.3" lengthAdjust="spacingAndGlyphs">U18</text>
<rect x="423.40000000000003" y="495.0" width="3.6" height="7.6" stroke="#2f8a35" stroke-width="0.9" fill="#fff" />
<text x="419.9" y="498.8" transform="rotate(90 419.9 498.8)" font-size="5.3" font-weight="bold" fill="#1f6a25" text-anchor="middle" dominant-baseline="central" textLength="8.3" lengthAdjust="spacingAndGlyphs">U12</text>
<rect x="423.40000000000003" y="508.7" width="3.6" height="7.6" stroke="#2f8a35" stroke-width="0.9" fill="#fff" />
<text x="419.9" y="512.5" transform="rotate(90 419.9 512.5)" font-size="5.3" font-weight="bold" fill="#1f6a25" text-anchor="middle" dominant-baseline="central" textLength="8.3" lengthAdjust="spacingAndGlyphs">U11</text>
<rect x="423.40000000000003" y="522.4000000000001" width="3.6" height="7.499999999999977" stroke="#2f8a35" stroke-width="0.9" fill="#fff" />
<text x="419.9" y="526.1500000000001" transform="rotate(90 419.9 526.1500000000001)" font-size="5.3" font-weight="bold" fill="#1f6a25" text-anchor="middle" dominant-baseline="central" textLength="8.3" lengthAdjust="spacingAndGlyphs">U10</text>
<rect x="423.40000000000003" y="536.0" width="3.6" height="7.6" stroke="#2f8a35" stroke-width="0.9" fill="#fff" />
<text x="419.9" y="539.8" transform="rotate(90 419.9 539.8)" font-size="5.3" font-weight="bold" fill="#1f6a25" text-anchor="middle" dominant-baseline="central" textLength="8.3" lengthAdjust="spacingAndGlyphs">U09</text>
<rect x="569.3" y="494.8" width="3.6" height="8.499999999999977" stroke="#2f8a35" stroke-width="0.9" fill="#fff" />
<text x="566.2" y="499.05" transform="rotate(90 566.2 499.05)" font-size="5.3" font-weight="bold" fill="#1f6a25" text-anchor="middle" dominant-baseline="central" textLength="8.3" lengthAdjust="spacingAndGlyphs">U19</text>
<rect x="569.3" y="539.3000000000001" width="3.6" height="8.499999999999977" stroke="#2f8a35" stroke-width="0.9" fill="#fff" />
<text x="566.2" y="543.55" transform="rotate(90 566.2 543.55)" font-size="5.3" font-weight="bold" fill="#1f6a25" text-anchor="middle" dominant-baseline="central" textLength="8.3" lengthAdjust="spacingAndGlyphs">U20</text>
<rect x="423.6" y="596.2" width="3.6" height="7.6" stroke="#2f8a35" stroke-width="0.9" fill="#fff" />
<text x="420.1" y="600.0" transform="rotate(90 420.1 600.0)" font-size="5.3" font-weight="bold" fill="#1f6a25" text-anchor="middle" dominant-baseline="central" textLength="8.3" lengthAdjust="spacingAndGlyphs">U08</text>
<rect x="423.6" y="609.9000000000001" width="3.6" height="7.899999999999954" stroke="#2f8a35" stroke-width="0.9" fill="#fff" />
<text x="420.1" y="613.85" transform="rotate(90 420.1 613.85)" font-size="5.3" font-weight="bold" fill="#1f6a25" text-anchor="middle" dominant-baseline="central" textLength="8.3" lengthAdjust="spacingAndGlyphs">U07</text>
<rect x="423.6" y="623.7" width="3.6" height="7.899999999999954" stroke="#2f8a35" stroke-width="0.9" fill="#fff" />
<text x="420.1" y="627.65" transform="rotate(90 420.1 627.65)" font-size="5.3" font-weight="bold" fill="#1f6a25" text-anchor="middle" dominant-baseline="central" textLength="8.3" lengthAdjust="spacingAndGlyphs">U06</text>
<rect x="423.6" y="637.5" width="3.6" height="7.900000000000068" stroke="#2f8a35" stroke-width="0.9" fill="#fff" />
<text x="420.1" y="641.45" transform="rotate(90 420.1 641.45)" font-size="5.3" font-weight="bold" fill="#1f6a25" text-anchor="middle" dominant-baseline="central" textLength="8.3" lengthAdjust="spacingAndGlyphs">U05</text>
<rect x="423.6" y="696.2" width="3.6" height="14.6" stroke="#2f8a35" stroke-width="0.9" fill="#fff" />
<text x="420.1" y="703.5" transform="rotate(90 420.1 703.5)" font-size="5.3" font-weight="bold" fill="#1f6a25" text-anchor="middle" dominant-baseline="central" textLength="8.3" lengthAdjust="spacingAndGlyphs">U04</text>
<rect x="423.6" y="713.2" width="3.6" height="9.6" stroke="#2f8a35" stroke-width="0.9" fill="#fff" />
<text x="420.1" y="718.0" transform="rotate(90 420.1 718.0)" font-size="5.3" font-weight="bold" fill="#1f6a25" text-anchor="middle" dominant-baseline="central" textLength="8.3" lengthAdjust="spacingAndGlyphs">U03</text>
<rect x="423.6" y="727.2" width="3.6" height="9.6" stroke="#2f8a35" stroke-width="0.9" fill="#fff" />
<text x="420.1" y="732.0" transform="rotate(90 420.1 732.0)" font-size="5.3" font-weight="bold" fill="#1f6a25" text-anchor="middle" dominant-baseline="central" textLength="8.3" lengthAdjust="spacingAndGlyphs">U02</text>
<rect x="423.6" y="741.2" width="3.6" height="9.1" stroke="#2f8a35" stroke-width="0.9" fill="#fff" />
<text x="420.1" y="745.75" transform="rotate(90 420.1 745.75)" font-size="5.3" font-weight="bold" fill="#1f6a25" text-anchor="middle" dominant-baseline="central" textLength="8.3" lengthAdjust="spacingAndGlyphs">U01</text>
<g transform="translate(248.4 171.8) rotate(-4.927109947649015)"><rect x="-7.0" y="-6.5" width="14" height="13" fill="#fff" stroke="#2f8535" stroke-width="1.0"/><text x="0" y="1.656" transform="rotate(0)" font-size="4.6" font-weight="bold" fill="#1d6622" stroke="#1d6622" stroke-width="0.12" text-anchor="middle">G45F</text></g>
<g transform="translate(262.2 174.5) rotate(9.041779411479297)"><rect x="-7.0" y="-6.5" width="14" height="13" fill="#fff" stroke="#2f8535" stroke-width="1.0"/><text x="0" y="1.908" transform="rotate(0)" font-size="5.3" font-weight="bold" fill="#1d6622" stroke="#1d6622" stroke-width="0.12" text-anchor="middle">G46</text></g>
<g transform="translate(276 178.1) rotate(23.611934323590773)"><rect x="-7.0" y="-6.5" width="14" height="13" fill="#fff" stroke="#2f8535" stroke-width="1.0"/><text x="0" y="1.908" transform="rotate(0)" font-size="5.3" font-weight="bold" fill="#1d6622" stroke="#1d6622" stroke-width="0.12" text-anchor="middle">G47</text></g>
<g transform="translate(231.3 160.7) rotate(35)"><rect x="-9.5" y="-5.5" width="19" height="11" fill="#fff" stroke="#2f8535" stroke-width="1.0"/><text x="0" y="1.908" transform="rotate(0)" font-size="5.3" font-weight="bold" fill="#1d6622" stroke="#1d6622" stroke-width="0.12" text-anchor="middle">BG02</text></g>
<g transform="translate(183.5 173.1) rotate(-3)"><rect x="-9.5" y="-5.5" width="19" height="11" fill="#fff" stroke="#2f8535" stroke-width="1.0"/><text x="0" y="1.908" transform="rotate(0)" font-size="5.3" font-weight="bold" fill="#1d6622" stroke="#1d6622" stroke-width="0.12" text-anchor="middle">BG03</text></g>
<g transform="translate(188.5 188.3) rotate(-5)"><rect x="-6.5" y="-7.0" width="13" height="14" fill="#fff" stroke="#2f8535" stroke-width="1.0"/><text x="0" y="1.908" transform="rotate(-90)" font-size="5.3" font-weight="bold" fill="#1d6622" stroke="#1d6622" stroke-width="0.12" text-anchor="middle">G44</text></g>
<g transform="translate(189.6 202.2) rotate(0)"><rect x="-6.5" y="-7.0" width="13" height="14" fill="#fff" stroke="#2f8535" stroke-width="1.0"/><text x="0" y="1.908" transform="rotate(-90)" font-size="5.3" font-weight="bold" fill="#1d6622" stroke="#1d6622" stroke-width="0.12" text-anchor="middle">G43</text></g>
<g transform="translate(197.3 216) rotate(0)"><rect x="-6.5" y="-6.75" width="13" height="13.5" fill="#fff" stroke="#2f8535" stroke-width="1.0"/><text x="0" y="1.908" transform="rotate(-90)" font-size="5.3" font-weight="bold" fill="#1d6622" stroke="#1d6622" stroke-width="0.12" text-anchor="middle">G42</text></g>
<g transform="translate(197.3 229.3) rotate(0)"><rect x="-6.5" y="-6.75" width="13" height="13.5" fill="#fff" stroke="#2f8535" stroke-width="1.0"/><text x="0" y="1.908" transform="rotate(-90)" font-size="5.3" font-weight="bold" fill="#1d6622" stroke="#1d6622" stroke-width="0.12" text-anchor="middle">G41</text></g>
<g transform="translate(198.7 245) rotate(254.4704867988951)"><rect x="-7.0" y="-6.5" width="14" height="13" fill="#fff" stroke="#2f8535" stroke-width="1.0"/><text x="0" y="1.908" transform="rotate(0)" font-size="5.3" font-weight="bold" fill="#1d6622" stroke="#1d6622" stroke-width="0.12" text-anchor="middle">G40</text></g>
<g transform="translate(205.6 260.2) rotate(237.54432240671792)"><rect x="-7.0" y="-6.5" width="14" height="13" fill="#fff" stroke="#2f8535" stroke-width="1.0"/><text x="0" y="1.908" transform="rotate(0)" font-size="5.3" font-weight="bold" fill="#1d6622" stroke="#1d6622" stroke-width="0.12" text-anchor="middle">G39</text></g>
<g transform="translate(215.8 273.4) rotate(220.77400182204155)"><rect x="-7.0" y="-6.5" width="14" height="13" fill="#fff" stroke="#2f8535" stroke-width="1.0"/><text x="0" y="1.908" transform="rotate(0)" font-size="5.3" font-weight="bold" fill="#1d6622" stroke="#1d6622" stroke-width="0.12" text-anchor="middle">G38</text></g>
<g transform="translate(244.8 285) rotate(188.85532665321523)"><rect x="-7.0" y="-6.5" width="14" height="13" fill="#fff" stroke="#2f8535" stroke-width="1.0"/><text x="0" y="1.908" transform="rotate(0)" font-size="5.3" font-weight="bold" fill="#1d6622" stroke="#1d6622" stroke-width="0.12" text-anchor="middle">G37</text></g>
<g transform="translate(260.8 285.9) rotate(172.4856496249942)"><rect x="-7.0" y="-6.5" width="14" height="13" fill="#fff" stroke="#2f8535" stroke-width="1.0"/><text x="0" y="1.908" transform="rotate(0)" font-size="5.3" font-weight="bold" fill="#1d6622" stroke="#1d6622" stroke-width="0.12" text-anchor="middle">G36</text></g>
<g transform="translate(276.9 281.7) rotate(155.6392755205884)"><rect x="-7.0" y="-6.5" width="14" height="13" fill="#fff" stroke="#2f8535" stroke-width="1.0"/><text x="0" y="1.908" transform="rotate(0)" font-size="5.3" font-weight="bold" fill="#1d6622" stroke="#1d6622" stroke-width="0.12" text-anchor="middle">G35</text></g>
<g transform="translate(258.6 299.7) rotate(-5)"><rect x="-7.0" y="-6.5" width="14" height="13" fill="#fff" stroke="#2f8535" stroke-width="1.0"/><text x="0" y="1.908" transform="rotate(0)" font-size="5.3" font-weight="bold" fill="#1d6622" stroke="#1d6622" stroke-width="0.12" text-anchor="middle">G49</text></g>
<g transform="translate(273.3 298) rotate(-12)"><rect x="-7.0" y="-6.5" width="14" height="13" fill="#fff" stroke="#2f8535" stroke-width="1.0"/><text x="0" y="1.908" transform="rotate(0)" font-size="5.3" font-weight="bold" fill="#1d6622" stroke="#1d6622" stroke-width="0.12" text-anchor="middle">G50</text></g>
<g transform="translate(287 291.4) rotate(-22)"><rect x="-7.0" y="-6.5" width="14" height="13" fill="#fff" stroke="#2f8535" stroke-width="1.0"/><text x="0" y="1.908" transform="rotate(0)" font-size="5.3" font-weight="bold" fill="#1d6622" stroke="#1d6622" stroke-width="0.12" text-anchor="middle">G51</text></g>
<g transform="translate(300.9 259.6) rotate(122.10286175592672)"><rect x="-7.0" y="-6.5" width="14" height="13" fill="#fff" stroke="#2f8535" stroke-width="1.0"/><text x="0" y="1.656" transform="rotate(0)" font-size="4.6" font-weight="bold" fill="#1d6622" stroke="#1d6622" stroke-width="0.12" text-anchor="middle">G34F</text></g>
<g transform="translate(307.8 245.8) rotate(106.38954033403479)"><rect x="-7.0" y="-6.5" width="14" height="13" fill="#fff" stroke="#2f8535" stroke-width="1.0"/><text x="0" y="1.908" transform="rotate(0)" font-size="5.3" font-weight="bold" fill="#1d6622" stroke="#1d6622" stroke-width="0.12" text-anchor="middle">G33</text></g>
<g transform="translate(310.6 230) rotate(90.20033407700784)"><rect x="-7.0" y="-6.5" width="14" height="13" fill="#fff" stroke="#2f8535" stroke-width="1.0"/><text x="0" y="1.908" transform="rotate(0)" font-size="5.3" font-weight="bold" fill="#1d6622" stroke="#1d6622" stroke-width="0.12" text-anchor="middle">G32</text></g>
<g transform="translate(307.8 214) rotate(73.80452711502986)"><rect x="-7.0" y="-6.5" width="14" height="13" fill="#fff" stroke="#2f8535" stroke-width="1.0"/><text x="0" y="1.908" transform="rotate(0)" font-size="5.3" font-weight="bold" fill="#1d6622" stroke="#1d6622" stroke-width="0.12" text-anchor="middle">G31</text></g>
<g transform="translate(341 199.4) rotate(22)"><rect x="-6.5" y="-7.0" width="13" height="14" fill="#fff" stroke="#2f8535" stroke-width="1.0"/><text x="0" y="1.908" transform="rotate(-90)" font-size="5.3" font-weight="bold" fill="#1d6622" stroke="#1d6622" stroke-width="0.12" text-anchor="middle">G57</text></g>
<g transform="translate(335.4 212.4) rotate(22)"><rect x="-6.5" y="-7.0" width="13" height="14" fill="#fff" stroke="#2f8535" stroke-width="1.0"/><text x="0" y="1.908" transform="rotate(-90)" font-size="5.3" font-weight="bold" fill="#1d6622" stroke="#1d6622" stroke-width="0.12" text-anchor="middle">G56</text></g>
<g transform="translate(329.9 225) rotate(22)"><rect x="-6.5" y="-7.0" width="13" height="14" fill="#fff" stroke="#2f8535" stroke-width="1.0"/><text x="0" y="1.908" transform="rotate(-90)" font-size="5.3" font-weight="bold" fill="#1d6622" stroke="#1d6622" stroke-width="0.12" text-anchor="middle">G55</text></g>
<g transform="translate(325.2 237.2) rotate(22)"><rect x="-6.5" y="-7.0" width="13" height="14" fill="#fff" stroke="#2f8535" stroke-width="1.0"/><text x="0" y="1.908" transform="rotate(-90)" font-size="5.3" font-weight="bold" fill="#1d6622" stroke="#1d6622" stroke-width="0.12" text-anchor="middle">G54</text></g>
<g transform="translate(319.7 249.1) rotate(22)"><rect x="-6.5" y="-7.0" width="13" height="14" fill="#fff" stroke="#2f8535" stroke-width="1.0"/><text x="0" y="1.908" transform="rotate(-90)" font-size="5.3" font-weight="bold" fill="#1d6622" stroke="#1d6622" stroke-width="0.12" text-anchor="middle">G53</text></g>
<rect x="200.54999999999998" y="212.35" width="7.3" height="7.3" fill="#e02a1b"/>
<path d="M204.2,212.35 V219.65 M200.54999999999998,216 H207.85" stroke="#fff" stroke-width="0.8"/>
<rect x="469.95000000000005" y="474.25" width="7.3" height="7.3" fill="#e02a1b"/>
<path d="M473.6,474.25 V481.54999999999995 M469.95000000000005,477.9 H477.25" stroke="#fff" stroke-width="0.8"/>
<rect x="330.35" y="557.65" width="7.3" height="7.3" fill="#e02a1b"/>
<path d="M334,557.65 V564.9499999999999 M330.35,561.3 H337.65" stroke="#fff" stroke-width="0.8"/>
<rect x="345.55" y="662.5500000000001" width="7.3" height="7.3" fill="#e02a1b"/>
<path d="M349.2,662.5500000000001 V669.85 M345.55,666.2 H352.84999999999997" stroke="#fff" stroke-width="0.8"/>
<rect x="290.15000000000003" y="684.85" width="7.3" height="7.3" fill="#e02a1b"/>
<path d="M293.8,684.85 V692.15 M290.15000000000003,688.5 H297.45" stroke="#fff" stroke-width="0.8"/>
<rect x="423.15000000000003" y="729.85" width="7.3" height="7.3" fill="#e02a1b"/>
<path d="M426.8,729.85 V737.15 M423.15000000000003,733.5 H430.45" stroke="#fff" stroke-width="0.8"/>
<rect x="313.7" y="707" width="14.9" height="14.5" fill="#d8281a"/>
<path d="M321.2,710.5 V718 M317.5,714.2 H325" stroke="#fff" stroke-width="1.3"/>
<rect x="191.9" y="167.7" width="7" height="7" fill="#1ea4e8"/>
<text x="195.4" y="173.39999999999998" font-size="5.5" fill="#fff" text-anchor="middle" font-weight="bold">F</text>
<rect x="446.9" y="675.5" width="7" height="7" fill="#1ea4e8"/>
<text x="450.4" y="681.2" font-size="5.5" fill="#fff" text-anchor="middle" font-weight="bold">F</text>
<rect x="460.3" y="675.5" width="7" height="7" fill="#1ea4e8"/>
<text x="463.8" y="681.2" font-size="5.5" fill="#fff" text-anchor="middle" font-weight="bold">F</text>
<rect x="473.3" y="675.5" width="7" height="7" fill="#1ea4e8"/>
<text x="476.8" y="681.2" font-size="5.5" fill="#fff" text-anchor="middle" font-weight="bold">F</text>
<circle cx="313" cy="453.2" r="3.2" fill="#e8e0e8" stroke="#f0c070" stroke-width="1"/>
<circle cx="313" cy="453.2" r="1.1" fill="#444"/>
<circle cx="457.7" cy="453.2" r="3.2" fill="#e8e0e8" stroke="#f0c070" stroke-width="1"/>
<circle cx="457.7" cy="453.2" r="1.1" fill="#444"/>
<circle cx="588.3" cy="453.2" r="3.2" fill="#e8e0e8" stroke="#f0c070" stroke-width="1"/>
<circle cx="588.3" cy="453.2" r="1.1" fill="#444"/>
<circle cx="614.2" cy="549.3" r="3.2" fill="#e8e0e8" stroke="#f0c070" stroke-width="1"/>
<circle cx="614.2" cy="549.3" r="1.1" fill="#444"/>
<circle cx="587" cy="586.6" r="3.2" fill="#e8e0e8" stroke="#f0c070" stroke-width="1"/>
<circle cx="587" cy="586.6" r="1.1" fill="#444"/>
<circle cx="313" cy="587" r="3.2" fill="#e8e0e8" stroke="#f0c070" stroke-width="1"/>
<circle cx="313" cy="587" r="1.1" fill="#444"/>
<circle cx="459.5" cy="583" r="3.2" fill="#e8e0e8" stroke="#f0c070" stroke-width="1"/>
<circle cx="459.5" cy="583" r="1.1" fill="#444"/>
<circle cx="326.3" cy="656" r="3.2" fill="#e8e0e8" stroke="#f0c070" stroke-width="1"/>
<circle cx="326.3" cy="656" r="1.1" fill="#444"/>
<circle cx="497.2" cy="656.1" r="3.2" fill="#e8e0e8" stroke="#f0c070" stroke-width="1"/>
<circle cx="497.2" cy="656.1" r="1.1" fill="#444"/>
<rect x="290.5" y="573.1" width="11.9" height="11.6" fill="#22b022"/>
<ellipse cx="517.8" cy="589.4" rx="4.5" ry="4.6" fill="#22b822"/>
<circle cx="500.8" cy="554.4" r="4.3" fill="#26b526"/>
<circle cx="505.5" cy="554.4" r="4.3" fill="#26b526"/>
<circle cx="510.5" cy="554.4" r="4.3" fill="#26b526"/>
<circle cx="515.5" cy="554.4" r="4.3" fill="#26b526"/>
<circle cx="520.3" cy="554.4" r="4.3" fill="#26b526"/>
<rect x="499" y="556" width="23" height="5" fill="none" stroke="#999" stroke-width="0.5" stroke-dasharray="1,1"/>
<rect x="556.5" y="597" width="6.5" height="51" fill="#f1ead8"/>
<rect x="556.5" y="597.21" width="6.5" height="1.14" fill="#8d6d35"/>
<rect x="556.5" y="599.39" width="6.5" height="2.08" fill="#8d6d35"/>
<rect x="556.5" y="602.41" width="6.5" height="1.14" fill="#8d6d35"/>
<rect x="556.5" y="604.49" width="6.5" height="1.14" fill="#8d6d35"/>
<rect x="556.5" y="606.68" width="6.5" height="2.08" fill="#8d6d35"/>
<rect x="556.5" y="609.70" width="6.5" height="1.14" fill="#8d6d35"/>
<rect x="556.5" y="611.78" width="6.5" height="1.14" fill="#8d6d35"/>
<rect x="556.5" y="613.97" width="6.5" height="2.08" fill="#8d6d35"/>
<rect x="556.5" y="616.98" width="6.5" height="1.14" fill="#8d6d35"/>
<rect x="556.5" y="619.07" width="6.5" height="1.14" fill="#8d6d35"/>
<rect x="556.5" y="621.25" width="6.5" height="2.08" fill="#8d6d35"/>
<rect x="556.5" y="624.27" width="6.5" height="1.14" fill="#8d6d35"/>
<rect x="556.5" y="626.35" width="6.5" height="1.14" fill="#8d6d35"/>
<rect x="556.5" y="628.54" width="6.5" height="2.08" fill="#8d6d35"/>
<rect x="556.5" y="631.56" width="6.5" height="1.14" fill="#8d6d35"/>
<rect x="556.5" y="633.64" width="6.5" height="1.14" fill="#8d6d35"/>
<rect x="556.5" y="635.82" width="6.5" height="2.08" fill="#8d6d35"/>
<rect x="556.5" y="638.84" width="6.5" height="1.14" fill="#8d6d35"/>
<rect x="556.5" y="640.92" width="6.5" height="1.14" fill="#8d6d35"/>
<rect x="556.5" y="643.11" width="6.5" height="2.08" fill="#8d6d35"/>
<rect x="556.5" y="646.13" width="6.5" height="1.14" fill="#8d6d35"/>
<rect x="458" y="652.5" width="7" height="7" fill="#f1ead8"/>
<rect x="458.30" y="652.5" width="1.00" height="7" fill="#8d6d35"/>
<rect x="460.50" y="652.5" width="2.00" height="7" fill="#8d6d35"/>
<rect x="463.70" y="652.5" width="1.00" height="7" fill="#8d6d35"/>
<rect x="471.3" y="652.5" width="7" height="7" fill="#f1ead8"/>
<rect x="471.60" y="652.5" width="1.00" height="7" fill="#8d6d35"/>
<rect x="473.80" y="652.5" width="2.00" height="7" fill="#8d6d35"/>
<rect x="477.00" y="652.5" width="1.00" height="7" fill="#8d6d35"/>
<rect x="484.3" y="652.5" width="7" height="7" fill="#f1ead8"/>
<rect x="484.60" y="652.5" width="1.00" height="7" fill="#8d6d35"/>
<rect x="486.80" y="652.5" width="2.00" height="7" fill="#8d6d35"/>
<rect x="490.00" y="652.5" width="1.00" height="7" fill="#8d6d35"/>
<rect x="502.2" y="652.5" width="7" height="7" fill="#f1ead8"/>
<rect x="502.50" y="652.5" width="1.00" height="7" fill="#8d6d35"/>
<rect x="504.70" y="652.5" width="2.00" height="7" fill="#8d6d35"/>
<rect x="507.90" y="652.5" width="1.00" height="7" fill="#8d6d35"/>
<rect x="513.3" y="652.5" width="7" height="7" fill="#f1ead8"/>
<rect x="513.60" y="652.5" width="1.00" height="7" fill="#8d6d35"/>
<rect x="515.80" y="652.5" width="2.00" height="7" fill="#8d6d35"/>
<rect x="519.00" y="652.5" width="1.00" height="7" fill="#8d6d35"/>
<rect x="523.5" y="652.5" width="7" height="15" fill="#f1ead8"/>
<rect x="523.5" y="652.71" width="7" height="1.18" fill="#8d6d35"/>
<rect x="523.5" y="654.96" width="7" height="2.14" fill="#8d6d35"/>
<rect x="523.5" y="658.07" width="7" height="1.18" fill="#8d6d35"/>
<rect x="523.5" y="660.21" width="7" height="1.18" fill="#8d6d35"/>
<rect x="523.5" y="662.46" width="7" height="2.14" fill="#8d6d35"/>
<rect x="523.5" y="665.57" width="7" height="1.18" fill="#8d6d35"/>
<rect x="539.5" y="652.5" width="7" height="15" fill="#f1ead8"/>
<rect x="539.5" y="652.71" width="7" height="1.18" fill="#8d6d35"/>
<rect x="539.5" y="654.96" width="7" height="2.14" fill="#8d6d35"/>
<rect x="539.5" y="658.07" width="7" height="1.18" fill="#8d6d35"/>
<rect x="539.5" y="660.21" width="7" height="1.18" fill="#8d6d35"/>
<rect x="539.5" y="662.46" width="7" height="2.14" fill="#8d6d35"/>
<rect x="539.5" y="665.57" width="7" height="1.18" fill="#8d6d35"/>
<rect x="494" y="677.4" width="7" height="15.2" fill="#f1ead8"/>
<rect x="494" y="677.62" width="7" height="1.19" fill="#8d6d35"/>
<rect x="494" y="679.90" width="7" height="2.17" fill="#8d6d35"/>
<rect x="494" y="683.05" width="7" height="1.19" fill="#8d6d35"/>
<rect x="494" y="685.22" width="7" height="1.19" fill="#8d6d35"/>
<rect x="494" y="687.50" width="7" height="2.17" fill="#8d6d35"/>
<rect x="494" y="690.65" width="7" height="1.19" fill="#8d6d35"/>
<rect x="508.3" y="677.4" width="7" height="15.2" fill="#f1ead8"/>
<rect x="508.3" y="677.62" width="7" height="1.19" fill="#8d6d35"/>
<rect x="508.3" y="679.90" width="7" height="2.17" fill="#8d6d35"/>
<rect x="508.3" y="683.05" width="7" height="1.19" fill="#8d6d35"/>
<rect x="508.3" y="685.22" width="7" height="1.19" fill="#8d6d35"/>
<rect x="508.3" y="687.50" width="7" height="2.17" fill="#8d6d35"/>
<rect x="508.3" y="690.65" width="7" height="1.19" fill="#8d6d35"/>
<rect x="523.8" y="677.4" width="7" height="15.2" fill="#f1ead8"/>
<rect x="523.8" y="677.62" width="7" height="1.19" fill="#8d6d35"/>
<rect x="523.8" y="679.90" width="7" height="2.17" fill="#8d6d35"/>
<rect x="523.8" y="683.05" width="7" height="1.19" fill="#8d6d35"/>
<rect x="523.8" y="685.22" width="7" height="1.19" fill="#8d6d35"/>
<rect x="523.8" y="687.50" width="7" height="2.17" fill="#8d6d35"/>
<rect x="523.8" y="690.65" width="7" height="1.19" fill="#8d6d35"/>
<rect x="539.5" y="677.4" width="7" height="15.2" fill="#f1ead8"/>
<rect x="539.5" y="677.62" width="7" height="1.19" fill="#8d6d35"/>
<rect x="539.5" y="679.90" width="7" height="2.17" fill="#8d6d35"/>
<rect x="539.5" y="683.05" width="7" height="1.19" fill="#8d6d35"/>
<rect x="539.5" y="685.22" width="7" height="1.19" fill="#8d6d35"/>
<rect x="539.5" y="687.50" width="7" height="2.17" fill="#8d6d35"/>
<rect x="539.5" y="690.65" width="7" height="1.19" fill="#8d6d35"/>
<rect x="528" y="484.9" width="7.5" height="6.2" fill="#f1ead8"/>
<rect x="528.32" y="484.9" width="1.07" height="6.2" fill="#8d6d35"/>
<rect x="530.68" y="484.9" width="2.14" height="6.2" fill="#8d6d35"/>
<rect x="534.11" y="484.9" width="1.07" height="6.2" fill="#8d6d35"/>
<rect x="536.7" y="484.9" width="7.5" height="6.2" fill="#f1ead8"/>
<rect x="537.02" y="484.9" width="1.07" height="6.2" fill="#8d6d35"/>
<rect x="539.38" y="484.9" width="2.14" height="6.2" fill="#8d6d35"/>
<rect x="542.81" y="484.9" width="1.07" height="6.2" fill="#8d6d35"/>
<rect x="393.4" y="493.5" width="16.9" height="27.3" fill="#fbd9c4" stroke="#5aa05a" stroke-width="0.6" stroke-dasharray="1.2,1"/>
<rect x="401.6" y="520.8" width="8.7" height="8.2" stroke="#666" stroke-width="0.7" fill="#fff" />
<text x="405.5" y="507" transform="rotate(90 405.5 507)" font-size="4.3" fill="#4aa84a" text-anchor="middle">AvalSquare</text>
<text x="400.7" y="507" transform="rotate(90 400.7 507)" font-size="4.3" fill="#4aa84a" text-anchor="middle">performance</text>
<text x="395.9" y="507" transform="rotate(90 395.9 507)" font-size="4.3" fill="#4aa84a" text-anchor="middle">area</text>
<text x="390" y="703.5" font-size="5.4" fill="#2a7a2a" text-anchor="middle" font-weight="normal" font-family="Liberation Sans" >Pagan</text>
<text x="390" y="710.8" font-size="5.4" fill="#2a7a2a" text-anchor="middle" font-weight="normal" font-family="Liberation Sans" >Market</text>
<text x="390" y="718.1" font-size="5.4" fill="#2a7a2a" text-anchor="middle" font-weight="normal" font-family="Liberation Sans" >Talks</text>
<rect x="557.5" y="663.6" width="8.5" height="19.4" fill="#fbd9c4" stroke="#e0a080" stroke-width="0.6" stroke-dasharray="1.2,1"/>
<text x="567.3" y="673.5" transform="rotate(90 567.3 673.5)" font-size="5" font-weight="bold" fill="#2a7a2a" text-anchor="middle">Weird Raptor</text>
<text x="560" y="673.3" transform="rotate(90 560 673.3)" font-size="5" font-weight="bold" fill="#2a7a2a" text-anchor="middle">stage</text>
<text x="562.5" y="727" transform="rotate(90 562.5 727)" font-size="5" font-weight="bold" fill="#2a7a2a" text-anchor="middle">Backstage area</text>
</svg></body></html>
